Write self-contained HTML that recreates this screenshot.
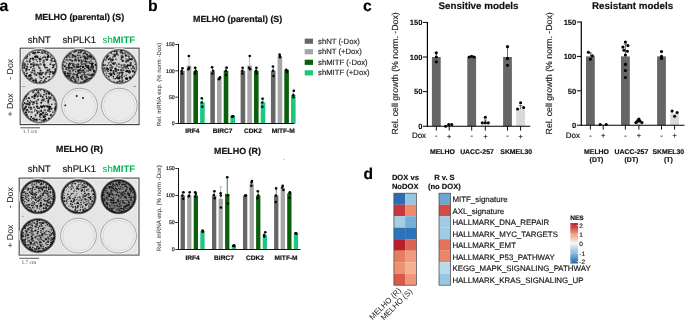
<!DOCTYPE html>
<html><head><meta charset="utf-8"><style>
html,body{margin:0;padding:0;background:#fff;}
svg{display:block;will-change:transform;}
text{font-family:"Liberation Sans", sans-serif;text-rendering:geometricPrecision;}
</style></head><body>
<svg width="685" height="320" viewBox="0 0 685 320" font-family='"Liberation Sans", sans-serif'>
<rect width="685" height="320" fill="#fff"/>
<text x="-0.40" y="10.70" font-size="15.8" font-weight="bold" text-anchor="start" fill="#000"  stroke="#000" stroke-width="0.18">a</text>
<text x="148.00" y="10.70" font-size="15.8" font-weight="bold" text-anchor="start" fill="#000"  stroke="#000" stroke-width="0.18">b</text>
<text x="363.10" y="10.80" font-size="15.8" font-weight="bold" text-anchor="start" fill="#000"  stroke="#000" stroke-width="0.18">c</text>
<text x="363.40" y="178.70" font-size="15.6" font-weight="bold" text-anchor="start" fill="#000"  stroke="#000" stroke-width="0.18">d</text>
<radialGradient id="edge"><stop offset="0.6" stop-color="#000" stop-opacity="0"/><stop offset="0.92" stop-color="#000" stop-opacity="0.18"/><stop offset="1" stop-color="#000" stop-opacity="0.45"/></radialGradient>
<text x="34.90" y="20.20" font-size="8.9" font-weight="bold" text-anchor="start" fill="#111"  stroke="#111" stroke-width="0.18">MELHO (parental) (S)</text>
<text x="27.80" y="43.00" font-size="9.6" font-weight="normal" text-anchor="start" fill="#1a1a1a"  stroke="#1a1a1a" stroke-width="0.18">shNT</text>
<text x="62.50" y="43.00" font-size="9.6" font-weight="normal" text-anchor="start" fill="#1a1a1a"  stroke="#1a1a1a" stroke-width="0.18">shPLK1</text>
<text x="102.6" y="43.0" font-size="9.6" fill="#00b050">sh<tspan font-weight="bold">MITF</tspan></text>
<rect x="20.2" y="48.2" width="118.8" height="76.39999999999999" fill="#e5e5e5" stroke="#3a3a3a" stroke-width="1.1"/>
<rect x="21.3" y="49.300000000000004" width="116.6" height="74.19999999999999" fill="none" stroke="#f3f3f3" stroke-width="0.9"/>
<g transform="translate(39.4 66.6) scale(1 0.9775) translate(-39.4 -66.6)">
<clipPath id="cp1"><circle cx="39.4" cy="66.6" r="16.900000000000002"/></clipPath>
<circle cx="39.4" cy="66.6" r="18.400000000000002" fill="none" stroke="#efefef" stroke-width="1.2"/>
<circle cx="39.4" cy="66.6" r="17.8" fill="#d6d6d6" stroke="#777" stroke-width="0.7"/>
<g clip-path="url(#cp1)"><circle cx="39.5" cy="49.6" r="1.2" fill="#666"/><circle cx="31.1" cy="51.2" r="0.9" fill="#181818"/><circle cx="35.6" cy="52.1" r="0.8" fill="#222"/><circle cx="38.0" cy="51.9" r="1.1" fill="#181818"/><circle cx="39.5" cy="52.1" r="0.7" fill="#2a2a2a"/><circle cx="42.2" cy="52.1" r="1.2" fill="#2a2a2a"/><circle cx="44.5" cy="49.9" r="0.9" fill="#111"/><circle cx="44.8" cy="51.3" r="1.2" fill="#222"/><circle cx="48.1" cy="51.9" r="0.8" fill="#111"/><circle cx="28.1" cy="53.2" r="1.1" fill="#444"/><circle cx="29.5" cy="54.2" r="0.8" fill="#666"/><circle cx="33.1" cy="52.6" r="1.3" fill="#444"/><circle cx="34.4" cy="52.8" r="1.3" fill="#222"/><circle cx="35.9" cy="53.5" r="0.7" fill="#666"/><circle cx="41.6" cy="52.7" r="1.1" fill="#666"/><circle cx="42.5" cy="52.9" r="0.9" fill="#444"/><circle cx="45.4" cy="52.9" r="0.9" fill="#444"/><circle cx="47.5" cy="53.8" r="1.2" fill="#444"/><circle cx="27.3" cy="55.9" r="1.0" fill="#222"/><circle cx="29.8" cy="54.6" r="0.8" fill="#444"/><circle cx="35.1" cy="56.1" r="0.7" fill="#222"/><circle cx="37.0" cy="56.2" r="1.1" fill="#222"/><circle cx="44.4" cy="56.5" r="1.3" fill="#666"/><circle cx="48.4" cy="55.4" r="0.9" fill="#181818"/><circle cx="51.6" cy="54.8" r="1.2" fill="#444"/><circle cx="26.4" cy="57.7" r="1.3" fill="#444"/><circle cx="30.5" cy="58.3" r="0.8" fill="#111"/><circle cx="32.7" cy="58.3" r="1.2" fill="#181818"/><circle cx="35.5" cy="56.5" r="1.3" fill="#111"/><circle cx="37.6" cy="57.0" r="1.0" fill="#111"/><circle cx="39.1" cy="58.2" r="0.7" fill="#181818"/><circle cx="40.4" cy="56.6" r="0.7" fill="#666"/><circle cx="42.7" cy="57.6" r="0.9" fill="#222"/><circle cx="45.5" cy="57.4" r="0.8" fill="#222"/><circle cx="47.8" cy="56.8" r="1.2" fill="#111"/><circle cx="50.3" cy="56.6" r="1.1" fill="#444"/><circle cx="52.1" cy="58.3" r="1.0" fill="#222"/><circle cx="54.9" cy="58.2" r="1.3" fill="#2a2a2a"/><circle cx="29.9" cy="59.7" r="1.2" fill="#666"/><circle cx="33.4" cy="59.9" r="0.7" fill="#222"/><circle cx="34.9" cy="58.9" r="0.7" fill="#181818"/><circle cx="36.4" cy="59.6" r="1.0" fill="#666"/><circle cx="40.0" cy="59.1" r="1.2" fill="#111"/><circle cx="40.4" cy="59.0" r="1.1" fill="#222"/><circle cx="43.8" cy="60.5" r="1.2" fill="#444"/><circle cx="45.9" cy="59.2" r="0.7" fill="#444"/><circle cx="47.0" cy="59.4" r="1.2" fill="#181818"/><circle cx="51.3" cy="60.1" r="1.1" fill="#2a2a2a"/><circle cx="54.7" cy="60.8" r="0.8" fill="#2a2a2a"/><circle cx="24.0" cy="62.9" r="0.8" fill="#2a2a2a"/><circle cx="26.9" cy="61.2" r="1.2" fill="#666"/><circle cx="29.7" cy="61.5" r="1.1" fill="#222"/><circle cx="33.6" cy="62.8" r="1.2" fill="#666"/><circle cx="37.2" cy="61.5" r="0.7" fill="#2a2a2a"/><circle cx="39.9" cy="61.3" r="0.8" fill="#2a2a2a"/><circle cx="43.6" cy="62.2" r="1.2" fill="#666"/><circle cx="51.2" cy="61.9" r="0.8" fill="#666"/><circle cx="53.0" cy="61.1" r="0.8" fill="#181818"/><circle cx="55.2" cy="61.2" r="1.1" fill="#111"/><circle cx="22.4" cy="63.8" r="1.2" fill="#111"/><circle cx="25.0" cy="64.1" r="0.9" fill="#111"/><circle cx="27.8" cy="64.1" r="0.8" fill="#444"/><circle cx="30.9" cy="64.2" r="0.9" fill="#222"/><circle cx="31.7" cy="64.1" r="1.0" fill="#222"/><circle cx="33.9" cy="65.2" r="1.2" fill="#2a2a2a"/><circle cx="36.6" cy="64.6" r="1.2" fill="#222"/><circle cx="38.3" cy="65.2" r="1.0" fill="#444"/><circle cx="40.5" cy="64.2" r="1.2" fill="#666"/><circle cx="44.1" cy="64.7" r="1.2" fill="#181818"/><circle cx="45.1" cy="65.1" r="0.7" fill="#444"/><circle cx="50.4" cy="64.3" r="1.0" fill="#222"/><circle cx="53.0" cy="64.7" r="0.8" fill="#444"/><circle cx="54.7" cy="64.7" r="0.8" fill="#2a2a2a"/><circle cx="55.8" cy="63.4" r="0.8" fill="#666"/><circle cx="22.2" cy="66.1" r="0.9" fill="#444"/><circle cx="24.5" cy="65.5" r="1.3" fill="#181818"/><circle cx="25.5" cy="65.5" r="1.2" fill="#666"/><circle cx="27.3" cy="66.8" r="1.1" fill="#2a2a2a"/><circle cx="31.1" cy="66.9" r="0.8" fill="#2a2a2a"/><circle cx="33.3" cy="66.5" r="0.8" fill="#222"/><circle cx="38.8" cy="67.3" r="1.0" fill="#444"/><circle cx="44.7" cy="67.0" r="1.0" fill="#444"/><circle cx="53.4" cy="65.5" r="1.1" fill="#181818"/><circle cx="53.8" cy="67.0" r="0.7" fill="#222"/><circle cx="57.1" cy="66.4" r="0.7" fill="#222"/><circle cx="24.2" cy="67.8" r="1.1" fill="#111"/><circle cx="26.5" cy="69.1" r="1.2" fill="#111"/><circle cx="30.4" cy="67.7" r="0.7" fill="#181818"/><circle cx="33.1" cy="68.4" r="0.7" fill="#2a2a2a"/><circle cx="34.2" cy="68.6" r="1.0" fill="#666"/><circle cx="39.7" cy="68.3" r="1.0" fill="#444"/><circle cx="45.9" cy="67.9" r="1.1" fill="#444"/><circle cx="47.3" cy="67.6" r="0.8" fill="#2a2a2a"/><circle cx="49.5" cy="69.4" r="0.9" fill="#111"/><circle cx="52.8" cy="67.6" r="0.9" fill="#111"/><circle cx="55.5" cy="69.4" r="0.9" fill="#181818"/><circle cx="56.1" cy="68.9" r="0.7" fill="#111"/><circle cx="26.0" cy="70.9" r="0.9" fill="#222"/><circle cx="27.8" cy="69.8" r="0.7" fill="#444"/><circle cx="29.3" cy="69.8" r="0.8" fill="#111"/><circle cx="32.6" cy="70.1" r="0.9" fill="#2a2a2a"/><circle cx="34.4" cy="70.8" r="1.1" fill="#2a2a2a"/><circle cx="40.6" cy="70.6" r="1.1" fill="#2a2a2a"/><circle cx="47.7" cy="70.6" r="1.2" fill="#2a2a2a"/><circle cx="49.9" cy="71.5" r="1.2" fill="#666"/><circle cx="52.8" cy="71.8" r="0.8" fill="#111"/><circle cx="55.3" cy="69.9" r="1.1" fill="#222"/><circle cx="56.2" cy="71.6" r="1.3" fill="#111"/><circle cx="24.3" cy="72.6" r="0.7" fill="#2a2a2a"/><circle cx="26.6" cy="73.9" r="0.9" fill="#2a2a2a"/><circle cx="27.3" cy="73.3" r="0.7" fill="#181818"/><circle cx="31.7" cy="72.5" r="1.2" fill="#444"/><circle cx="34.6" cy="73.6" r="1.2" fill="#444"/><circle cx="37.6" cy="72.9" r="0.7" fill="#111"/><circle cx="39.4" cy="73.8" r="1.3" fill="#222"/><circle cx="40.5" cy="72.9" r="1.2" fill="#444"/><circle cx="42.7" cy="73.0" r="1.1" fill="#2a2a2a"/><circle cx="46.0" cy="72.9" r="1.2" fill="#444"/><circle cx="47.9" cy="72.7" r="0.7" fill="#222"/><circle cx="50.7" cy="72.1" r="1.0" fill="#111"/><circle cx="53.3" cy="73.4" r="1.2" fill="#111"/><circle cx="54.8" cy="72.4" r="1.3" fill="#222"/><circle cx="24.3" cy="74.6" r="1.3" fill="#666"/><circle cx="26.2" cy="76.1" r="0.9" fill="#181818"/><circle cx="29.1" cy="76.2" r="1.2" fill="#2a2a2a"/><circle cx="30.3" cy="75.4" r="1.3" fill="#111"/><circle cx="34.3" cy="75.2" r="0.7" fill="#666"/><circle cx="36.4" cy="75.2" r="1.0" fill="#181818"/><circle cx="39.7" cy="74.7" r="0.9" fill="#2a2a2a"/><circle cx="41.3" cy="74.6" r="1.2" fill="#222"/><circle cx="45.5" cy="74.5" r="1.0" fill="#444"/><circle cx="49.7" cy="74.2" r="0.9" fill="#222"/><circle cx="52.9" cy="76.1" r="0.7" fill="#666"/><circle cx="54.7" cy="75.3" r="0.7" fill="#181818"/><circle cx="26.0" cy="76.8" r="1.3" fill="#111"/><circle cx="28.4" cy="78.1" r="0.8" fill="#666"/><circle cx="31.1" cy="77.2" r="0.7" fill="#2a2a2a"/><circle cx="31.6" cy="78.5" r="1.2" fill="#444"/><circle cx="39.3" cy="76.9" r="0.7" fill="#666"/><circle cx="40.4" cy="78.1" r="1.0" fill="#444"/><circle cx="43.6" cy="77.1" r="0.9" fill="#111"/><circle cx="46.2" cy="78.5" r="0.9" fill="#222"/><circle cx="47.9" cy="76.9" r="0.8" fill="#444"/><circle cx="49.4" cy="77.0" r="0.9" fill="#181818"/><circle cx="27.9" cy="79.6" r="1.3" fill="#666"/><circle cx="30.3" cy="79.2" r="1.1" fill="#2a2a2a"/><circle cx="35.8" cy="79.2" r="0.8" fill="#181818"/><circle cx="41.8" cy="78.8" r="0.7" fill="#111"/><circle cx="44.6" cy="80.6" r="1.0" fill="#2a2a2a"/><circle cx="45.7" cy="79.1" r="0.8" fill="#2a2a2a"/><circle cx="49.5" cy="80.7" r="1.1" fill="#181818"/><circle cx="52.2" cy="78.9" r="0.9" fill="#666"/><circle cx="33.5" cy="80.9" r="1.3" fill="#181818"/><circle cx="35.9" cy="81.2" r="1.3" fill="#2a2a2a"/><circle cx="36.1" cy="82.6" r="1.2" fill="#444"/><circle cx="39.7" cy="82.4" r="1.0" fill="#444"/><circle cx="41.0" cy="81.0" r="0.9" fill="#444"/><circle cx="43.2" cy="82.3" r="0.9" fill="#181818"/><circle cx="45.4" cy="82.5" r="1.1" fill="#111"/><circle cx="49.4" cy="80.7" r="1.2" fill="#444"/><circle cx="36.5" cy="83.2" r="1.2" fill="#222"/><circle cx="39.7" cy="83.4" r="0.8" fill="#181818"/><circle cx="41.4" cy="84.1" r="1.3" fill="#444"/></g>
<circle cx="39.4" cy="66.6" r="17.00" fill="none" stroke="#151515" stroke-opacity="0.85" stroke-width="0.8"/>
</g>
<g transform="translate(79.5 66.6) scale(1 0.9775) translate(-79.5 -66.6)">
<clipPath id="cp2"><circle cx="79.5" cy="66.6" r="16.900000000000002"/></clipPath>
<circle cx="79.5" cy="66.6" r="18.400000000000002" fill="none" stroke="#efefef" stroke-width="1.2"/>
<circle cx="79.5" cy="66.6" r="17.8" fill="#bcbcbc" stroke="#777" stroke-width="0.7"/>
<g clip-path="url(#cp2)"><circle cx="80.1" cy="49.7" r="0.8" fill="#111"/><circle cx="81.9" cy="49.0" r="0.7" fill="#111"/><circle cx="75.0" cy="50.9" r="1.0" fill="#666"/><circle cx="75.7" cy="50.4" r="1.3" fill="#222"/><circle cx="79.2" cy="49.9" r="0.9" fill="#444"/><circle cx="81.3" cy="50.8" r="1.1" fill="#181818"/><circle cx="81.9" cy="50.4" r="1.0" fill="#444"/><circle cx="84.5" cy="51.0" r="0.8" fill="#666"/><circle cx="70.1" cy="53.5" r="1.1" fill="#2a2a2a"/><circle cx="71.2" cy="53.5" r="0.9" fill="#666"/><circle cx="74.1" cy="52.1" r="0.7" fill="#2a2a2a"/><circle cx="78.6" cy="52.2" r="1.0" fill="#181818"/><circle cx="80.5" cy="52.3" r="0.9" fill="#2a2a2a"/><circle cx="83.6" cy="53.3" r="1.0" fill="#2a2a2a"/><circle cx="85.2" cy="52.6" r="1.0" fill="#181818"/><circle cx="86.1" cy="53.7" r="0.8" fill="#2a2a2a"/><circle cx="89.8" cy="52.3" r="1.0" fill="#444"/><circle cx="65.9" cy="55.7" r="0.9" fill="#222"/><circle cx="68.3" cy="55.3" r="1.1" fill="#222"/><circle cx="69.7" cy="54.6" r="1.0" fill="#666"/><circle cx="72.8" cy="54.8" r="1.2" fill="#2a2a2a"/><circle cx="74.0" cy="55.8" r="1.1" fill="#222"/><circle cx="77.4" cy="55.1" r="0.8" fill="#222"/><circle cx="79.4" cy="55.1" r="1.2" fill="#666"/><circle cx="82.7" cy="56.0" r="1.1" fill="#666"/><circle cx="84.3" cy="56.1" r="1.1" fill="#444"/><circle cx="87.2" cy="54.5" r="1.1" fill="#111"/><circle cx="90.0" cy="56.1" r="1.3" fill="#111"/><circle cx="90.7" cy="54.4" r="0.7" fill="#2a2a2a"/><circle cx="92.9" cy="55.4" r="0.8" fill="#666"/><circle cx="66.6" cy="56.9" r="1.1" fill="#111"/><circle cx="69.7" cy="56.9" r="1.0" fill="#444"/><circle cx="72.5" cy="56.9" r="1.1" fill="#444"/><circle cx="74.3" cy="56.6" r="0.8" fill="#666"/><circle cx="75.4" cy="56.4" r="1.1" fill="#181818"/><circle cx="78.1" cy="58.0" r="1.0" fill="#181818"/><circle cx="80.6" cy="57.2" r="0.9" fill="#181818"/><circle cx="84.8" cy="57.0" r="1.3" fill="#2a2a2a"/><circle cx="87.8" cy="56.5" r="1.1" fill="#2a2a2a"/><circle cx="88.5" cy="56.2" r="1.0" fill="#2a2a2a"/><circle cx="91.2" cy="56.7" r="1.2" fill="#181818"/><circle cx="93.2" cy="57.9" r="0.9" fill="#2a2a2a"/><circle cx="64.3" cy="58.5" r="0.9" fill="#444"/><circle cx="66.3" cy="59.5" r="0.7" fill="#222"/><circle cx="67.7" cy="59.8" r="0.7" fill="#222"/><circle cx="70.2" cy="59.7" r="1.1" fill="#181818"/><circle cx="71.2" cy="59.9" r="1.1" fill="#666"/><circle cx="75.3" cy="59.6" r="1.2" fill="#2a2a2a"/><circle cx="76.2" cy="60.0" r="0.9" fill="#111"/><circle cx="78.1" cy="58.3" r="1.1" fill="#666"/><circle cx="81.2" cy="60.2" r="1.0" fill="#444"/><circle cx="83.5" cy="60.3" r="1.0" fill="#444"/><circle cx="85.5" cy="58.4" r="1.2" fill="#111"/><circle cx="87.2" cy="58.3" r="1.3" fill="#2a2a2a"/><circle cx="89.4" cy="58.4" r="0.8" fill="#666"/><circle cx="91.8" cy="58.5" r="1.3" fill="#666"/><circle cx="94.1" cy="58.6" r="1.0" fill="#181818"/><circle cx="94.4" cy="58.7" r="1.1" fill="#666"/><circle cx="64.0" cy="61.9" r="0.8" fill="#2a2a2a"/><circle cx="65.0" cy="61.8" r="0.9" fill="#666"/><circle cx="67.7" cy="60.5" r="0.8" fill="#666"/><circle cx="72.3" cy="60.8" r="0.9" fill="#222"/><circle cx="74.3" cy="60.6" r="0.9" fill="#666"/><circle cx="76.2" cy="60.6" r="0.9" fill="#444"/><circle cx="78.9" cy="60.5" r="1.1" fill="#181818"/><circle cx="81.9" cy="61.5" r="1.0" fill="#181818"/><circle cx="85.7" cy="61.3" r="1.2" fill="#111"/><circle cx="87.9" cy="61.7" r="0.8" fill="#444"/><circle cx="88.7" cy="62.1" r="1.3" fill="#666"/><circle cx="90.8" cy="61.2" r="1.2" fill="#666"/><circle cx="62.9" cy="62.5" r="0.8" fill="#2a2a2a"/><circle cx="66.7" cy="63.5" r="0.7" fill="#2a2a2a"/><circle cx="69.7" cy="63.4" r="1.1" fill="#111"/><circle cx="71.9" cy="63.3" r="0.8" fill="#222"/><circle cx="73.5" cy="64.2" r="1.1" fill="#111"/><circle cx="78.2" cy="64.4" r="1.1" fill="#2a2a2a"/><circle cx="81.3" cy="62.8" r="0.9" fill="#2a2a2a"/><circle cx="83.1" cy="64.0" r="0.8" fill="#111"/><circle cx="85.0" cy="63.8" r="1.3" fill="#666"/><circle cx="86.6" cy="63.1" r="0.9" fill="#666"/><circle cx="90.0" cy="63.4" r="0.8" fill="#181818"/><circle cx="92.0" cy="63.8" r="1.3" fill="#111"/><circle cx="93.1" cy="63.4" r="0.8" fill="#111"/><circle cx="95.4" cy="64.5" r="0.9" fill="#111"/><circle cx="62.2" cy="65.0" r="0.8" fill="#2a2a2a"/><circle cx="62.9" cy="65.1" r="1.0" fill="#111"/><circle cx="65.0" cy="66.3" r="1.1" fill="#111"/><circle cx="68.9" cy="65.0" r="1.1" fill="#181818"/><circle cx="70.2" cy="64.7" r="0.8" fill="#444"/><circle cx="73.2" cy="64.9" r="1.2" fill="#444"/><circle cx="73.3" cy="65.7" r="1.1" fill="#2a2a2a"/><circle cx="76.4" cy="64.8" r="1.2" fill="#666"/><circle cx="78.4" cy="66.3" r="0.8" fill="#222"/><circle cx="80.6" cy="66.2" r="1.0" fill="#181818"/><circle cx="81.9" cy="64.7" r="0.8" fill="#2a2a2a"/><circle cx="85.8" cy="65.9" r="1.0" fill="#181818"/><circle cx="86.0" cy="65.0" r="0.9" fill="#111"/><circle cx="88.1" cy="66.2" r="1.2" fill="#111"/><circle cx="91.9" cy="65.9" r="1.1" fill="#2a2a2a"/><circle cx="92.5" cy="66.0" r="0.7" fill="#111"/><circle cx="95.7" cy="65.1" r="0.9" fill="#181818"/><circle cx="63.0" cy="67.7" r="0.7" fill="#444"/><circle cx="66.5" cy="67.8" r="0.7" fill="#181818"/><circle cx="68.7" cy="67.6" r="1.3" fill="#111"/><circle cx="69.5" cy="67.6" r="0.9" fill="#111"/><circle cx="71.5" cy="68.0" r="1.3" fill="#222"/><circle cx="74.4" cy="67.0" r="1.0" fill="#2a2a2a"/><circle cx="77.0" cy="66.9" r="1.3" fill="#2a2a2a"/><circle cx="78.7" cy="67.0" r="1.1" fill="#181818"/><circle cx="80.7" cy="68.7" r="0.8" fill="#2a2a2a"/><circle cx="83.1" cy="67.1" r="1.3" fill="#181818"/><circle cx="84.8" cy="68.5" r="0.8" fill="#222"/><circle cx="87.6" cy="67.3" r="1.2" fill="#181818"/><circle cx="88.7" cy="68.3" r="1.1" fill="#111"/><circle cx="91.3" cy="67.5" r="1.2" fill="#2a2a2a"/><circle cx="93.0" cy="66.8" r="1.2" fill="#222"/><circle cx="96.1" cy="67.1" r="0.9" fill="#666"/><circle cx="62.9" cy="69.2" r="0.8" fill="#444"/><circle cx="66.1" cy="69.1" r="0.9" fill="#111"/><circle cx="68.2" cy="69.8" r="1.1" fill="#666"/><circle cx="69.9" cy="70.8" r="1.3" fill="#666"/><circle cx="72.3" cy="68.9" r="1.0" fill="#444"/><circle cx="73.3" cy="70.4" r="0.9" fill="#111"/><circle cx="75.5" cy="69.5" r="1.2" fill="#666"/><circle cx="78.3" cy="70.8" r="1.3" fill="#181818"/><circle cx="79.7" cy="70.3" r="1.3" fill="#222"/><circle cx="83.1" cy="70.5" r="1.1" fill="#181818"/><circle cx="84.8" cy="68.9" r="0.9" fill="#444"/><circle cx="86.7" cy="70.8" r="0.9" fill="#666"/><circle cx="89.1" cy="69.2" r="0.9" fill="#222"/><circle cx="90.3" cy="70.2" r="1.2" fill="#222"/><circle cx="92.7" cy="69.0" r="1.2" fill="#444"/><circle cx="94.4" cy="70.7" r="1.0" fill="#181818"/><circle cx="63.9" cy="72.6" r="1.2" fill="#2a2a2a"/><circle cx="65.3" cy="71.9" r="0.9" fill="#2a2a2a"/><circle cx="69.4" cy="70.9" r="1.1" fill="#444"/><circle cx="72.3" cy="71.8" r="0.8" fill="#666"/><circle cx="75.6" cy="71.9" r="0.8" fill="#2a2a2a"/><circle cx="78.8" cy="72.8" r="1.2" fill="#2a2a2a"/><circle cx="81.3" cy="70.9" r="0.8" fill="#222"/><circle cx="82.0" cy="72.1" r="1.2" fill="#666"/><circle cx="84.4" cy="72.5" r="1.3" fill="#444"/><circle cx="88.2" cy="71.1" r="0.8" fill="#222"/><circle cx="93.8" cy="71.4" r="1.0" fill="#111"/><circle cx="94.5" cy="72.1" r="1.1" fill="#2a2a2a"/><circle cx="64.3" cy="74.0" r="1.2" fill="#111"/><circle cx="65.1" cy="74.0" r="1.2" fill="#222"/><circle cx="67.8" cy="73.6" r="1.2" fill="#111"/><circle cx="70.3" cy="73.6" r="1.3" fill="#444"/><circle cx="73.8" cy="74.5" r="1.3" fill="#444"/><circle cx="76.4" cy="75.0" r="1.0" fill="#181818"/><circle cx="77.6" cy="73.7" r="0.7" fill="#181818"/><circle cx="80.3" cy="73.0" r="1.0" fill="#2a2a2a"/><circle cx="84.2" cy="74.6" r="1.0" fill="#222"/><circle cx="87.1" cy="74.7" r="0.7" fill="#181818"/><circle cx="88.8" cy="74.6" r="1.1" fill="#666"/><circle cx="91.4" cy="74.3" r="0.7" fill="#666"/><circle cx="93.0" cy="74.8" r="1.3" fill="#2a2a2a"/><circle cx="94.3" cy="74.7" r="0.9" fill="#222"/><circle cx="65.3" cy="75.9" r="1.0" fill="#222"/><circle cx="67.0" cy="76.4" r="1.2" fill="#111"/><circle cx="69.2" cy="75.9" r="1.3" fill="#181818"/><circle cx="72.5" cy="76.6" r="0.9" fill="#2a2a2a"/><circle cx="77.3" cy="75.1" r="1.0" fill="#222"/><circle cx="77.7" cy="76.4" r="0.8" fill="#222"/><circle cx="80.6" cy="77.1" r="0.8" fill="#111"/><circle cx="81.9" cy="75.9" r="1.3" fill="#444"/><circle cx="85.0" cy="77.1" r="1.1" fill="#222"/><circle cx="85.9" cy="75.1" r="0.9" fill="#666"/><circle cx="89.4" cy="75.1" r="1.0" fill="#444"/><circle cx="91.6" cy="75.5" r="1.2" fill="#181818"/><circle cx="92.2" cy="75.9" r="0.7" fill="#222"/><circle cx="67.8" cy="77.9" r="1.1" fill="#666"/><circle cx="69.2" cy="78.1" r="1.0" fill="#2a2a2a"/><circle cx="71.4" cy="78.2" r="0.9" fill="#2a2a2a"/><circle cx="73.5" cy="77.9" r="1.1" fill="#181818"/><circle cx="76.5" cy="77.2" r="0.8" fill="#181818"/><circle cx="78.2" cy="77.9" r="1.0" fill="#181818"/><circle cx="81.1" cy="77.7" r="1.1" fill="#2a2a2a"/><circle cx="82.0" cy="78.8" r="1.1" fill="#2a2a2a"/><circle cx="85.7" cy="78.9" r="1.1" fill="#666"/><circle cx="86.6" cy="77.4" r="1.2" fill="#444"/><circle cx="89.0" cy="79.0" r="1.1" fill="#111"/><circle cx="90.9" cy="78.3" r="1.1" fill="#444"/><circle cx="70.8" cy="79.5" r="0.9" fill="#222"/><circle cx="71.8" cy="81.1" r="1.1" fill="#2a2a2a"/><circle cx="74.2" cy="79.6" r="0.9" fill="#444"/><circle cx="75.8" cy="79.4" r="0.8" fill="#2a2a2a"/><circle cx="78.4" cy="80.3" r="0.8" fill="#2a2a2a"/><circle cx="82.4" cy="79.3" r="1.1" fill="#444"/><circle cx="84.9" cy="81.1" r="1.1" fill="#2a2a2a"/><circle cx="87.0" cy="79.8" r="1.1" fill="#181818"/><circle cx="88.5" cy="80.0" r="0.9" fill="#666"/><circle cx="91.5" cy="79.4" r="1.1" fill="#111"/><circle cx="74.1" cy="83.2" r="0.9" fill="#181818"/><circle cx="75.4" cy="81.5" r="1.3" fill="#2a2a2a"/><circle cx="77.7" cy="82.2" r="0.7" fill="#444"/><circle cx="80.7" cy="82.7" r="0.9" fill="#222"/><circle cx="83.6" cy="82.3" r="1.2" fill="#111"/><circle cx="85.0" cy="81.5" r="1.1" fill="#2a2a2a"/><circle cx="86.8" cy="81.9" r="1.3" fill="#2a2a2a"/></g>
<circle cx="79.5" cy="66.6" r="17.00" fill="none" stroke="#151515" stroke-opacity="0.85" stroke-width="0.8"/>
</g>
<g transform="translate(119.3 66.6) scale(1 0.9775) translate(-119.3 -66.6)">
<clipPath id="cp3"><circle cx="119.3" cy="66.6" r="16.900000000000002"/></clipPath>
<circle cx="119.3" cy="66.6" r="18.400000000000002" fill="none" stroke="#efefef" stroke-width="1.2"/>
<circle cx="119.3" cy="66.6" r="17.8" fill="#cdcdcd" stroke="#777" stroke-width="0.7"/>
<g clip-path="url(#cp3)"><circle cx="121.3" cy="49.7" r="1.2" fill="#2a2a2a"/><circle cx="113.3" cy="50.6" r="0.8" fill="#111"/><circle cx="114.7" cy="51.2" r="0.8" fill="#111"/><circle cx="116.7" cy="51.3" r="1.1" fill="#181818"/><circle cx="120.1" cy="51.5" r="0.9" fill="#666"/><circle cx="121.5" cy="50.2" r="1.3" fill="#111"/><circle cx="125.1" cy="51.2" r="0.9" fill="#666"/><circle cx="127.9" cy="51.1" r="1.3" fill="#111"/><circle cx="110.9" cy="52.2" r="1.2" fill="#2a2a2a"/><circle cx="112.2" cy="53.8" r="0.7" fill="#666"/><circle cx="114.1" cy="54.2" r="0.9" fill="#444"/><circle cx="116.6" cy="53.6" r="1.2" fill="#222"/><circle cx="120.8" cy="52.5" r="0.8" fill="#111"/><circle cx="122.5" cy="52.6" r="1.1" fill="#222"/><circle cx="125.2" cy="53.2" r="1.3" fill="#666"/><circle cx="128.0" cy="53.6" r="1.0" fill="#666"/><circle cx="130.2" cy="53.8" r="1.2" fill="#666"/><circle cx="106.5" cy="54.8" r="0.8" fill="#2a2a2a"/><circle cx="108.3" cy="55.5" r="1.1" fill="#444"/><circle cx="114.8" cy="55.5" r="1.3" fill="#111"/><circle cx="118.1" cy="54.8" r="0.8" fill="#2a2a2a"/><circle cx="121.2" cy="55.4" r="0.7" fill="#444"/><circle cx="122.5" cy="54.8" r="0.9" fill="#666"/><circle cx="125.9" cy="55.4" r="1.1" fill="#111"/><circle cx="128.1" cy="55.8" r="0.7" fill="#181818"/><circle cx="129.1" cy="56.0" r="0.7" fill="#444"/><circle cx="132.2" cy="55.5" r="1.2" fill="#222"/><circle cx="106.8" cy="58.0" r="0.8" fill="#181818"/><circle cx="107.2" cy="56.6" r="1.1" fill="#111"/><circle cx="110.0" cy="58.1" r="1.0" fill="#222"/><circle cx="113.3" cy="56.7" r="1.2" fill="#666"/><circle cx="121.5" cy="57.0" r="0.9" fill="#222"/><circle cx="122.5" cy="56.9" r="1.3" fill="#2a2a2a"/><circle cx="128.9" cy="56.7" r="0.9" fill="#444"/><circle cx="133.2" cy="57.4" r="0.9" fill="#2a2a2a"/><circle cx="134.7" cy="57.8" r="0.8" fill="#2a2a2a"/><circle cx="103.1" cy="59.5" r="1.3" fill="#111"/><circle cx="105.5" cy="59.7" r="1.2" fill="#666"/><circle cx="108.6" cy="59.2" r="0.9" fill="#111"/><circle cx="110.7" cy="59.6" r="1.2" fill="#444"/><circle cx="112.5" cy="59.7" r="1.3" fill="#181818"/><circle cx="115.9" cy="59.0" r="0.8" fill="#2a2a2a"/><circle cx="121.3" cy="59.0" r="0.9" fill="#222"/><circle cx="122.8" cy="60.7" r="1.2" fill="#181818"/><circle cx="125.9" cy="58.7" r="0.7" fill="#2a2a2a"/><circle cx="127.9" cy="60.4" r="1.3" fill="#111"/><circle cx="129.6" cy="59.0" r="1.1" fill="#181818"/><circle cx="131.6" cy="59.0" r="1.2" fill="#111"/><circle cx="134.6" cy="60.7" r="0.8" fill="#666"/><circle cx="102.9" cy="61.8" r="1.2" fill="#444"/><circle cx="109.1" cy="62.5" r="0.7" fill="#2a2a2a"/><circle cx="111.2" cy="61.9" r="0.8" fill="#111"/><circle cx="113.4" cy="63.0" r="0.9" fill="#181818"/><circle cx="115.3" cy="63.0" r="1.0" fill="#666"/><circle cx="123.0" cy="61.2" r="0.7" fill="#2a2a2a"/><circle cx="126.4" cy="61.4" r="1.2" fill="#222"/><circle cx="127.2" cy="61.2" r="0.8" fill="#666"/><circle cx="130.7" cy="62.9" r="1.2" fill="#444"/><circle cx="134.3" cy="61.5" r="0.8" fill="#666"/><circle cx="102.5" cy="64.2" r="1.1" fill="#222"/><circle cx="103.8" cy="65.3" r="1.1" fill="#2a2a2a"/><circle cx="105.5" cy="65.0" r="0.7" fill="#2a2a2a"/><circle cx="108.6" cy="63.7" r="0.7" fill="#666"/><circle cx="110.6" cy="65.2" r="1.1" fill="#222"/><circle cx="112.6" cy="63.5" r="0.8" fill="#181818"/><circle cx="113.8" cy="63.6" r="1.3" fill="#2a2a2a"/><circle cx="116.6" cy="64.3" r="0.7" fill="#666"/><circle cx="118.9" cy="64.0" r="0.9" fill="#181818"/><circle cx="121.3" cy="65.0" r="1.1" fill="#666"/><circle cx="124.7" cy="65.2" r="1.0" fill="#222"/><circle cx="127.8" cy="65.3" r="1.2" fill="#111"/><circle cx="130.9" cy="64.9" r="0.8" fill="#222"/><circle cx="135.2" cy="64.2" r="0.7" fill="#111"/><circle cx="107.4" cy="65.4" r="0.7" fill="#111"/><circle cx="110.5" cy="65.3" r="0.8" fill="#444"/><circle cx="112.0" cy="67.4" r="1.3" fill="#444"/><circle cx="116.7" cy="65.7" r="0.9" fill="#666"/><circle cx="119.0" cy="67.0" r="0.9" fill="#666"/><circle cx="121.3" cy="67.2" r="1.0" fill="#666"/><circle cx="123.4" cy="65.5" r="1.2" fill="#666"/><circle cx="125.3" cy="67.1" r="1.3" fill="#444"/><circle cx="127.1" cy="66.7" r="1.0" fill="#111"/><circle cx="130.3" cy="65.3" r="1.2" fill="#111"/><circle cx="133.1" cy="66.6" r="1.1" fill="#222"/><circle cx="133.4" cy="67.2" r="1.0" fill="#444"/><circle cx="104.1" cy="68.2" r="0.9" fill="#111"/><circle cx="106.7" cy="68.2" r="1.3" fill="#444"/><circle cx="107.6" cy="69.2" r="1.2" fill="#111"/><circle cx="109.9" cy="68.0" r="0.9" fill="#444"/><circle cx="115.5" cy="68.8" r="1.2" fill="#222"/><circle cx="115.8" cy="69.5" r="1.0" fill="#181818"/><circle cx="123.0" cy="68.3" r="1.2" fill="#666"/><circle cx="126.2" cy="68.6" r="1.0" fill="#666"/><circle cx="128.3" cy="68.5" r="0.8" fill="#222"/><circle cx="131.2" cy="69.1" r="0.7" fill="#444"/><circle cx="132.0" cy="68.5" r="0.8" fill="#444"/><circle cx="134.3" cy="68.7" r="0.8" fill="#222"/><circle cx="102.8" cy="69.7" r="1.3" fill="#666"/><circle cx="105.3" cy="70.7" r="1.3" fill="#666"/><circle cx="108.0" cy="71.2" r="0.9" fill="#222"/><circle cx="110.9" cy="70.3" r="1.2" fill="#111"/><circle cx="113.6" cy="71.2" r="1.1" fill="#2a2a2a"/><circle cx="116.1" cy="71.3" r="1.1" fill="#2a2a2a"/><circle cx="118.2" cy="70.0" r="1.0" fill="#181818"/><circle cx="121.2" cy="70.3" r="1.3" fill="#444"/><circle cx="123.7" cy="70.3" r="0.8" fill="#2a2a2a"/><circle cx="126.5" cy="71.3" r="1.2" fill="#222"/><circle cx="127.2" cy="71.2" r="1.2" fill="#111"/><circle cx="129.4" cy="71.4" r="1.2" fill="#111"/><circle cx="133.1" cy="71.3" r="1.2" fill="#181818"/><circle cx="134.1" cy="71.6" r="0.7" fill="#444"/><circle cx="102.8" cy="72.4" r="1.2" fill="#181818"/><circle cx="106.4" cy="73.4" r="0.8" fill="#444"/><circle cx="109.0" cy="73.6" r="0.7" fill="#222"/><circle cx="110.7" cy="73.8" r="1.2" fill="#222"/><circle cx="113.4" cy="73.1" r="1.1" fill="#2a2a2a"/><circle cx="113.6" cy="73.3" r="0.8" fill="#181818"/><circle cx="117.2" cy="73.1" r="1.0" fill="#666"/><circle cx="119.3" cy="73.2" r="1.0" fill="#222"/><circle cx="121.2" cy="72.9" r="1.0" fill="#2a2a2a"/><circle cx="122.6" cy="72.7" r="1.0" fill="#111"/><circle cx="129.3" cy="72.5" r="1.3" fill="#2a2a2a"/><circle cx="134.5" cy="72.6" r="0.7" fill="#111"/><circle cx="104.3" cy="75.1" r="1.1" fill="#666"/><circle cx="106.7" cy="75.6" r="0.8" fill="#666"/><circle cx="110.9" cy="75.1" r="1.3" fill="#2a2a2a"/><circle cx="111.5" cy="75.0" r="1.1" fill="#111"/><circle cx="114.5" cy="74.3" r="0.9" fill="#111"/><circle cx="117.4" cy="76.0" r="0.7" fill="#222"/><circle cx="118.9" cy="74.9" r="1.2" fill="#666"/><circle cx="121.8" cy="76.2" r="1.1" fill="#2a2a2a"/><circle cx="122.4" cy="74.5" r="0.9" fill="#222"/><circle cx="126.2" cy="75.4" r="1.0" fill="#666"/><circle cx="133.0" cy="76.0" r="0.9" fill="#2a2a2a"/><circle cx="134.7" cy="74.8" r="0.8" fill="#181818"/><circle cx="106.5" cy="78.1" r="0.8" fill="#111"/><circle cx="108.7" cy="76.8" r="0.9" fill="#181818"/><circle cx="113.4" cy="76.7" r="0.8" fill="#111"/><circle cx="113.6" cy="78.4" r="0.9" fill="#666"/><circle cx="117.3" cy="77.7" r="1.3" fill="#222"/><circle cx="119.9" cy="77.1" r="0.9" fill="#181818"/><circle cx="122.1" cy="78.1" r="0.9" fill="#222"/><circle cx="124.1" cy="76.4" r="0.8" fill="#666"/><circle cx="125.9" cy="78.4" r="0.9" fill="#666"/><circle cx="130.0" cy="77.7" r="1.3" fill="#111"/><circle cx="133.1" cy="77.1" r="1.2" fill="#222"/><circle cx="106.4" cy="78.7" r="0.7" fill="#666"/><circle cx="109.3" cy="79.8" r="1.1" fill="#666"/><circle cx="115.2" cy="79.0" r="0.8" fill="#111"/><circle cx="117.5" cy="78.6" r="1.0" fill="#222"/><circle cx="119.0" cy="78.6" r="1.3" fill="#111"/><circle cx="122.0" cy="79.2" r="0.9" fill="#666"/><circle cx="122.6" cy="80.7" r="0.8" fill="#2a2a2a"/><circle cx="126.3" cy="78.8" r="1.2" fill="#181818"/><circle cx="126.9" cy="79.0" r="1.3" fill="#111"/><circle cx="130.9" cy="78.7" r="1.1" fill="#111"/><circle cx="131.7" cy="79.3" r="1.2" fill="#2a2a2a"/><circle cx="111.7" cy="82.3" r="0.7" fill="#444"/><circle cx="113.8" cy="82.5" r="1.0" fill="#444"/><circle cx="117.5" cy="82.5" r="0.8" fill="#111"/><circle cx="119.7" cy="81.7" r="1.2" fill="#222"/><circle cx="120.9" cy="82.1" r="1.3" fill="#666"/><circle cx="122.5" cy="81.8" r="1.0" fill="#444"/><circle cx="125.9" cy="82.7" r="1.0" fill="#222"/><circle cx="116.2" cy="83.2" r="0.9" fill="#444"/><circle cx="119.8" cy="84.2" r="0.7" fill="#444"/><circle cx="122.6" cy="83.6" r="0.7" fill="#666"/></g>
<circle cx="119.3" cy="66.6" r="17.00" fill="none" stroke="#151515" stroke-opacity="0.85" stroke-width="0.8"/>
</g>
<g transform="translate(39.4 105.7) scale(1 0.9775) translate(-39.4 -105.7)">
<clipPath id="cp4"><circle cx="39.4" cy="105.7" r="16.900000000000002"/></clipPath>
<circle cx="39.4" cy="105.7" r="18.400000000000002" fill="none" stroke="#efefef" stroke-width="1.2"/>
<circle cx="39.4" cy="105.7" r="17.8" fill="#d6d6d6" stroke="#777" stroke-width="0.7"/>
<g clip-path="url(#cp4)"><circle cx="40.3" cy="88.9" r="1.1" fill="#181818"/><circle cx="41.7" cy="88.6" r="0.7" fill="#181818"/><circle cx="43.8" cy="88.5" r="1.1" fill="#181818"/><circle cx="34.6" cy="89.2" r="1.2" fill="#222"/><circle cx="36.6" cy="89.7" r="0.9" fill="#111"/><circle cx="38.4" cy="90.6" r="1.0" fill="#2a2a2a"/><circle cx="40.7" cy="90.2" r="0.8" fill="#666"/><circle cx="44.2" cy="89.9" r="0.9" fill="#181818"/><circle cx="48.2" cy="91.2" r="0.8" fill="#444"/><circle cx="28.1" cy="93.3" r="1.1" fill="#2a2a2a"/><circle cx="33.3" cy="91.7" r="1.2" fill="#444"/><circle cx="37.2" cy="92.1" r="0.7" fill="#222"/><circle cx="38.6" cy="92.8" r="1.2" fill="#444"/><circle cx="44.6" cy="91.5" r="1.1" fill="#444"/><circle cx="47.3" cy="91.2" r="1.0" fill="#111"/><circle cx="49.2" cy="91.8" r="1.3" fill="#111"/><circle cx="26.4" cy="95.5" r="1.1" fill="#2a2a2a"/><circle cx="27.2" cy="94.1" r="0.7" fill="#2a2a2a"/><circle cx="35.7" cy="94.2" r="1.3" fill="#2a2a2a"/><circle cx="38.0" cy="93.5" r="0.7" fill="#666"/><circle cx="38.9" cy="94.7" r="0.7" fill="#666"/><circle cx="40.6" cy="94.0" r="0.9" fill="#666"/><circle cx="44.0" cy="94.4" r="1.0" fill="#444"/><circle cx="46.4" cy="93.5" r="1.0" fill="#181818"/><circle cx="49.0" cy="93.6" r="1.1" fill="#2a2a2a"/><circle cx="49.7" cy="93.4" r="1.1" fill="#181818"/><circle cx="52.4" cy="95.1" r="1.3" fill="#2a2a2a"/><circle cx="24.7" cy="97.5" r="1.1" fill="#222"/><circle cx="25.4" cy="95.9" r="1.3" fill="#111"/><circle cx="28.7" cy="97.7" r="0.8" fill="#2a2a2a"/><circle cx="32.3" cy="96.7" r="1.2" fill="#444"/><circle cx="34.7" cy="95.8" r="1.3" fill="#111"/><circle cx="37.4" cy="96.2" r="1.1" fill="#444"/><circle cx="38.1" cy="95.9" r="0.7" fill="#222"/><circle cx="40.8" cy="95.9" r="1.1" fill="#2a2a2a"/><circle cx="42.7" cy="96.8" r="0.9" fill="#111"/><circle cx="46.2" cy="96.0" r="0.8" fill="#111"/><circle cx="48.6" cy="96.8" r="0.8" fill="#222"/><circle cx="50.3" cy="97.7" r="1.3" fill="#181818"/><circle cx="53.7" cy="97.7" r="0.7" fill="#2a2a2a"/><circle cx="24.1" cy="98.9" r="0.9" fill="#222"/><circle cx="26.3" cy="98.3" r="1.2" fill="#666"/><circle cx="29.1" cy="98.1" r="0.9" fill="#111"/><circle cx="34.5" cy="98.0" r="1.0" fill="#222"/><circle cx="38.2" cy="99.6" r="0.9" fill="#181818"/><circle cx="43.6" cy="99.3" r="1.3" fill="#444"/><circle cx="46.8" cy="98.0" r="1.0" fill="#222"/><circle cx="48.7" cy="99.0" r="1.0" fill="#444"/><circle cx="53.2" cy="99.1" r="0.7" fill="#444"/><circle cx="54.7" cy="99.1" r="1.0" fill="#444"/><circle cx="55.7" cy="98.6" r="0.7" fill="#2a2a2a"/><circle cx="23.0" cy="100.2" r="1.3" fill="#2a2a2a"/><circle cx="27.7" cy="101.0" r="1.0" fill="#2a2a2a"/><circle cx="30.5" cy="100.2" r="0.7" fill="#222"/><circle cx="31.8" cy="101.7" r="0.8" fill="#181818"/><circle cx="36.4" cy="101.1" r="1.1" fill="#444"/><circle cx="42.2" cy="100.1" r="1.2" fill="#444"/><circle cx="42.9" cy="100.4" r="1.1" fill="#444"/><circle cx="45.2" cy="101.2" r="0.7" fill="#666"/><circle cx="48.3" cy="100.8" r="1.1" fill="#181818"/><circle cx="54.1" cy="100.2" r="0.9" fill="#666"/><circle cx="56.0" cy="100.9" r="0.7" fill="#181818"/><circle cx="24.5" cy="103.0" r="1.1" fill="#222"/><circle cx="26.0" cy="103.7" r="0.7" fill="#111"/><circle cx="27.2" cy="103.9" r="1.3" fill="#2a2a2a"/><circle cx="29.6" cy="102.6" r="1.2" fill="#222"/><circle cx="33.5" cy="102.4" r="1.3" fill="#2a2a2a"/><circle cx="33.9" cy="102.4" r="0.9" fill="#222"/><circle cx="36.8" cy="103.5" r="1.1" fill="#181818"/><circle cx="41.2" cy="102.6" r="1.0" fill="#111"/><circle cx="48.2" cy="102.6" r="0.9" fill="#222"/><circle cx="51.7" cy="104.3" r="0.9" fill="#444"/><circle cx="55.0" cy="103.9" r="0.9" fill="#666"/><circle cx="56.1" cy="104.0" r="0.7" fill="#222"/><circle cx="22.7" cy="106.4" r="0.8" fill="#666"/><circle cx="23.4" cy="104.9" r="0.8" fill="#111"/><circle cx="25.8" cy="106.6" r="1.1" fill="#2a2a2a"/><circle cx="29.3" cy="104.5" r="1.2" fill="#222"/><circle cx="32.9" cy="104.4" r="0.8" fill="#222"/><circle cx="37.1" cy="106.6" r="1.2" fill="#111"/><circle cx="41.2" cy="106.5" r="1.3" fill="#2a2a2a"/><circle cx="43.7" cy="105.7" r="1.0" fill="#222"/><circle cx="45.9" cy="105.7" r="0.9" fill="#666"/><circle cx="47.5" cy="106.4" r="1.2" fill="#111"/><circle cx="49.1" cy="104.9" r="0.8" fill="#666"/><circle cx="55.9" cy="106.4" r="1.0" fill="#181818"/><circle cx="24.5" cy="108.6" r="1.3" fill="#181818"/><circle cx="26.2" cy="106.9" r="1.0" fill="#181818"/><circle cx="29.0" cy="107.4" r="0.9" fill="#181818"/><circle cx="30.8" cy="107.6" r="1.1" fill="#2a2a2a"/><circle cx="34.0" cy="107.2" r="1.0" fill="#444"/><circle cx="37.9" cy="108.3" r="0.9" fill="#222"/><circle cx="39.4" cy="108.2" r="0.8" fill="#222"/><circle cx="42.0" cy="107.0" r="1.3" fill="#181818"/><circle cx="44.4" cy="106.7" r="0.8" fill="#2a2a2a"/><circle cx="44.8" cy="106.7" r="0.8" fill="#111"/><circle cx="48.9" cy="107.0" r="1.3" fill="#2a2a2a"/><circle cx="50.2" cy="107.1" r="1.2" fill="#111"/><circle cx="55.3" cy="108.3" r="1.2" fill="#2a2a2a"/><circle cx="23.4" cy="110.0" r="1.3" fill="#2a2a2a"/><circle cx="26.3" cy="110.1" r="0.9" fill="#444"/><circle cx="27.3" cy="110.0" r="1.1" fill="#222"/><circle cx="31.1" cy="108.8" r="1.3" fill="#444"/><circle cx="35.2" cy="109.4" r="0.9" fill="#666"/><circle cx="36.6" cy="110.8" r="1.0" fill="#444"/><circle cx="41.3" cy="110.6" r="0.9" fill="#2a2a2a"/><circle cx="44.6" cy="110.4" r="0.7" fill="#222"/><circle cx="44.8" cy="110.3" r="1.2" fill="#666"/><circle cx="48.1" cy="110.6" r="1.2" fill="#444"/><circle cx="49.5" cy="109.0" r="1.2" fill="#111"/><circle cx="51.8" cy="108.9" r="0.9" fill="#111"/><circle cx="54.9" cy="110.6" r="1.0" fill="#444"/><circle cx="55.9" cy="109.0" r="1.3" fill="#111"/><circle cx="25.8" cy="112.6" r="1.3" fill="#222"/><circle cx="28.8" cy="111.9" r="1.3" fill="#666"/><circle cx="31.7" cy="112.4" r="1.2" fill="#666"/><circle cx="34.5" cy="111.0" r="0.7" fill="#2a2a2a"/><circle cx="38.0" cy="112.4" r="1.1" fill="#111"/><circle cx="39.0" cy="111.9" r="1.2" fill="#666"/><circle cx="41.1" cy="111.4" r="0.9" fill="#222"/><circle cx="43.1" cy="112.9" r="1.2" fill="#222"/><circle cx="46.1" cy="112.7" r="0.7" fill="#2a2a2a"/><circle cx="49.8" cy="111.4" r="1.1" fill="#444"/><circle cx="52.9" cy="112.3" r="0.8" fill="#222"/><circle cx="26.4" cy="114.9" r="1.3" fill="#2a2a2a"/><circle cx="27.2" cy="115.3" r="0.9" fill="#444"/><circle cx="35.6" cy="115.2" r="0.8" fill="#2a2a2a"/><circle cx="37.2" cy="113.5" r="0.9" fill="#222"/><circle cx="40.1" cy="115.0" r="1.2" fill="#444"/><circle cx="40.9" cy="114.4" r="1.2" fill="#111"/><circle cx="42.9" cy="115.2" r="0.7" fill="#222"/><circle cx="45.3" cy="114.8" r="1.0" fill="#2a2a2a"/><circle cx="47.1" cy="114.8" r="1.0" fill="#111"/><circle cx="51.5" cy="115.0" r="1.0" fill="#444"/><circle cx="25.0" cy="115.6" r="1.1" fill="#666"/><circle cx="28.1" cy="117.5" r="1.1" fill="#111"/><circle cx="31.2" cy="117.0" r="0.9" fill="#111"/><circle cx="35.5" cy="115.9" r="0.9" fill="#2a2a2a"/><circle cx="39.8" cy="116.6" r="0.8" fill="#2a2a2a"/><circle cx="43.7" cy="117.0" r="1.2" fill="#111"/><circle cx="44.9" cy="116.8" r="1.1" fill="#181818"/><circle cx="50.4" cy="115.6" r="0.8" fill="#111"/><circle cx="52.3" cy="117.1" r="1.2" fill="#444"/><circle cx="53.8" cy="115.9" r="1.1" fill="#2a2a2a"/><circle cx="28.4" cy="117.6" r="0.9" fill="#666"/><circle cx="30.3" cy="118.8" r="0.9" fill="#222"/><circle cx="33.3" cy="118.9" r="1.2" fill="#222"/><circle cx="34.9" cy="118.4" r="0.7" fill="#666"/><circle cx="39.7" cy="119.7" r="0.7" fill="#666"/><circle cx="40.7" cy="117.8" r="1.1" fill="#666"/><circle cx="45.3" cy="119.5" r="1.2" fill="#181818"/><circle cx="48.9" cy="118.8" r="1.0" fill="#222"/><circle cx="49.5" cy="119.2" r="0.9" fill="#181818"/><circle cx="30.7" cy="120.5" r="1.2" fill="#2a2a2a"/><circle cx="32.9" cy="121.2" r="0.8" fill="#2a2a2a"/><circle cx="34.7" cy="120.1" r="1.0" fill="#181818"/><circle cx="36.6" cy="120.1" r="1.3" fill="#111"/><circle cx="39.5" cy="119.9" r="0.8" fill="#2a2a2a"/><circle cx="41.6" cy="120.8" r="1.1" fill="#666"/><circle cx="43.7" cy="120.7" r="1.3" fill="#2a2a2a"/><circle cx="46.5" cy="121.7" r="1.0" fill="#444"/></g>
<circle cx="39.4" cy="105.7" r="17.00" fill="none" stroke="#151515" stroke-opacity="0.85" stroke-width="0.8"/>
</g>
<g transform="translate(79.5 105.7) scale(1 0.9775) translate(-79.5 -105.7)">
<circle cx="79.5" cy="105.7" r="17.8" fill="#eaeaea" stroke="#8c8c8c" stroke-width="0.8"/>
<circle cx="79.5" cy="105.7" r="16.6" fill="none" stroke="#f2f2f2" stroke-width="1.1"/>
<circle cx="79.5" cy="105.7" r="15.8" fill="none" stroke="#c4c4c4" stroke-width="0.5"/>
<circle cx="76.70" cy="95.80" r="0.95" fill="#111"/>
<circle cx="83.00" cy="97.80" r="0.95" fill="#111"/>
<circle cx="65.30" cy="105.30" r="0.95" fill="#111"/>
</g>
<g transform="translate(119.3 105.7) scale(1 0.9775) translate(-119.3 -105.7)">
<circle cx="119.3" cy="105.7" r="17.8" fill="#eaeaea" stroke="#8c8c8c" stroke-width="0.8"/>
<circle cx="119.3" cy="105.7" r="16.6" fill="none" stroke="#f2f2f2" stroke-width="1.1"/>
<circle cx="119.3" cy="105.7" r="15.8" fill="none" stroke="#c4c4c4" stroke-width="0.5"/>
</g>
<line x1="20.2" y1="127.8" x2="40.0" y2="127.8" stroke="#555" stroke-width="1"/>
<text x="23.00" y="132.90" font-size="4.7" fill="#555">1.7 cm</text>
<text transform="translate(12.6 69.3) rotate(-90)" font-size="8.8" text-anchor="middle" fill="#111">- Dox</text>
<text transform="translate(12.6 105.0) rotate(-90)" font-size="8.8" text-anchor="middle" fill="#111">+ Dox</text>
<text x="56.00" y="152.00" font-size="8.9" font-weight="bold" text-anchor="start" fill="#111"  stroke="#111" stroke-width="0.18">MELHO (R)</text>
<text x="27.80" y="172.00" font-size="9.6" font-weight="normal" text-anchor="start" fill="#1a1a1a"  stroke="#1a1a1a" stroke-width="0.18">shNT</text>
<text x="62.50" y="172.00" font-size="9.6" font-weight="normal" text-anchor="start" fill="#1a1a1a"  stroke="#1a1a1a" stroke-width="0.18">shPLK1</text>
<text x="102.6" y="172.0" font-size="9.6" fill="#00b050">sh<tspan font-weight="bold">MITF</tspan></text>
<rect x="19.3" y="178.2" width="119.60000000000001" height="76.80000000000001" fill="#e5e5e5" stroke="#6a6a6a" stroke-width="1.5"/>
<rect x="20.400000000000002" y="179.29999999999998" width="117.4" height="74.60000000000001" fill="none" stroke="#f3f3f3" stroke-width="0.9"/>
<g transform="translate(37.9 196.7) scale(1 0.9719) translate(-37.9 -196.7)">
<clipPath id="cp7"><circle cx="37.9" cy="196.7" r="16.900000000000002"/></clipPath>
<circle cx="37.9" cy="196.7" r="18.400000000000002" fill="none" stroke="#efefef" stroke-width="1.2"/>
<circle cx="37.9" cy="196.7" r="17.8" fill="#bdbdbd" stroke="#777" stroke-width="0.7"/>
<g clip-path="url(#cp7)"><circle cx="35.7" cy="179.6" r="1.0" fill="#2a2a2a"/><circle cx="38.5" cy="179.7" r="0.7" fill="#181818"/><circle cx="39.9" cy="179.4" r="0.8" fill="#222"/><circle cx="32.6" cy="181.4" r="0.8" fill="#666"/><circle cx="35.1" cy="181.0" r="0.7" fill="#222"/><circle cx="37.0" cy="181.2" r="1.0" fill="#222"/><circle cx="38.1" cy="181.0" r="0.9" fill="#181818"/><circle cx="40.3" cy="180.2" r="0.8" fill="#444"/><circle cx="40.9" cy="180.8" r="0.6" fill="#181818"/><circle cx="42.9" cy="181.0" r="0.6" fill="#111"/><circle cx="45.2" cy="180.9" r="0.9" fill="#2a2a2a"/><circle cx="29.6" cy="182.3" r="0.6" fill="#181818"/><circle cx="30.5" cy="182.8" r="0.7" fill="#444"/><circle cx="32.2" cy="183.0" r="0.8" fill="#666"/><circle cx="34.2" cy="181.7" r="0.6" fill="#111"/><circle cx="36.5" cy="181.6" r="0.6" fill="#2a2a2a"/><circle cx="39.0" cy="182.3" r="0.8" fill="#181818"/><circle cx="39.3" cy="181.7" r="0.6" fill="#222"/><circle cx="41.3" cy="182.3" r="0.6" fill="#222"/><circle cx="43.5" cy="182.7" r="0.8" fill="#222"/><circle cx="45.4" cy="181.8" r="0.7" fill="#444"/><circle cx="47.5" cy="183.2" r="1.0" fill="#666"/><circle cx="48.3" cy="182.5" r="0.7" fill="#181818"/><circle cx="26.3" cy="184.8" r="0.7" fill="#181818"/><circle cx="28.1" cy="183.9" r="0.5" fill="#111"/><circle cx="28.5" cy="183.4" r="0.7" fill="#111"/><circle cx="31.8" cy="184.9" r="0.9" fill="#666"/><circle cx="33.1" cy="183.9" r="0.6" fill="#222"/><circle cx="34.3" cy="184.1" r="0.6" fill="#181818"/><circle cx="36.2" cy="183.4" r="0.7" fill="#222"/><circle cx="40.7" cy="184.1" r="1.0" fill="#2a2a2a"/><circle cx="41.5" cy="183.7" r="1.1" fill="#2a2a2a"/><circle cx="42.9" cy="184.1" r="0.6" fill="#444"/><circle cx="46.0" cy="184.3" r="0.6" fill="#111"/><circle cx="47.3" cy="184.0" r="0.8" fill="#444"/><circle cx="49.3" cy="183.5" r="1.0" fill="#666"/><circle cx="50.6" cy="185.1" r="1.0" fill="#181818"/><circle cx="25.5" cy="186.2" r="1.0" fill="#666"/><circle cx="26.8" cy="185.3" r="0.8" fill="#444"/><circle cx="33.0" cy="186.5" r="0.9" fill="#222"/><circle cx="34.9" cy="185.4" r="0.6" fill="#444"/><circle cx="36.6" cy="186.3" r="1.0" fill="#222"/><circle cx="37.9" cy="186.7" r="0.8" fill="#2a2a2a"/><circle cx="39.1" cy="186.7" r="0.7" fill="#2a2a2a"/><circle cx="42.0" cy="186.8" r="0.7" fill="#111"/><circle cx="44.0" cy="186.9" r="1.1" fill="#111"/><circle cx="46.2" cy="186.0" r="0.8" fill="#666"/><circle cx="46.3" cy="185.7" r="0.8" fill="#222"/><circle cx="49.5" cy="186.2" r="0.8" fill="#111"/><circle cx="50.2" cy="187.0" r="0.6" fill="#181818"/><circle cx="23.6" cy="188.8" r="1.0" fill="#2a2a2a"/><circle cx="25.9" cy="188.4" r="0.6" fill="#111"/><circle cx="27.0" cy="187.1" r="1.0" fill="#666"/><circle cx="28.5" cy="188.3" r="0.8" fill="#181818"/><circle cx="30.5" cy="188.5" r="0.8" fill="#222"/><circle cx="32.3" cy="188.3" r="0.9" fill="#181818"/><circle cx="33.7" cy="187.2" r="0.6" fill="#181818"/><circle cx="36.5" cy="187.2" r="0.9" fill="#111"/><circle cx="38.5" cy="188.0" r="0.9" fill="#181818"/><circle cx="39.9" cy="188.5" r="0.9" fill="#2a2a2a"/><circle cx="41.0" cy="187.2" r="1.0" fill="#2a2a2a"/><circle cx="42.6" cy="188.7" r="0.9" fill="#181818"/><circle cx="46.2" cy="187.7" r="0.9" fill="#111"/><circle cx="48.3" cy="187.3" r="0.8" fill="#111"/><circle cx="51.2" cy="188.1" r="0.8" fill="#444"/><circle cx="52.0" cy="187.3" r="1.0" fill="#2a2a2a"/><circle cx="22.0" cy="189.5" r="0.9" fill="#444"/><circle cx="22.9" cy="189.6" r="1.0" fill="#444"/><circle cx="27.4" cy="189.8" r="0.6" fill="#2a2a2a"/><circle cx="28.3" cy="189.3" r="1.0" fill="#181818"/><circle cx="32.1" cy="190.2" r="0.8" fill="#111"/><circle cx="34.3" cy="189.2" r="0.6" fill="#2a2a2a"/><circle cx="35.8" cy="188.9" r="0.8" fill="#666"/><circle cx="39.2" cy="190.5" r="1.1" fill="#444"/><circle cx="41.9" cy="188.9" r="0.9" fill="#111"/><circle cx="42.7" cy="190.2" r="0.6" fill="#111"/><circle cx="44.4" cy="190.1" r="0.6" fill="#2a2a2a"/><circle cx="46.3" cy="190.3" r="0.9" fill="#2a2a2a"/><circle cx="48.9" cy="189.1" r="1.0" fill="#111"/><circle cx="50.1" cy="188.9" r="0.8" fill="#181818"/><circle cx="52.8" cy="189.7" r="0.6" fill="#2a2a2a"/><circle cx="22.3" cy="190.9" r="0.9" fill="#2a2a2a"/><circle cx="23.9" cy="191.9" r="0.9" fill="#222"/><circle cx="24.9" cy="191.7" r="0.6" fill="#181818"/><circle cx="29.5" cy="192.0" r="0.8" fill="#2a2a2a"/><circle cx="30.9" cy="190.9" r="0.6" fill="#222"/><circle cx="32.3" cy="192.0" r="1.0" fill="#2a2a2a"/><circle cx="35.9" cy="191.9" r="0.6" fill="#222"/><circle cx="38.3" cy="192.2" r="1.0" fill="#666"/><circle cx="40.4" cy="191.6" r="0.6" fill="#2a2a2a"/><circle cx="40.8" cy="191.3" r="0.5" fill="#222"/><circle cx="44.6" cy="191.3" r="0.9" fill="#181818"/><circle cx="47.5" cy="191.5" r="0.8" fill="#111"/><circle cx="50.4" cy="191.9" r="1.0" fill="#2a2a2a"/><circle cx="53.1" cy="192.2" r="1.1" fill="#181818"/><circle cx="53.6" cy="190.9" r="0.7" fill="#2a2a2a"/><circle cx="21.8" cy="192.8" r="0.8" fill="#2a2a2a"/><circle cx="23.3" cy="192.5" r="0.6" fill="#111"/><circle cx="25.8" cy="193.2" r="0.9" fill="#181818"/><circle cx="27.6" cy="193.5" r="0.7" fill="#222"/><circle cx="29.9" cy="192.4" r="0.7" fill="#222"/><circle cx="31.3" cy="193.7" r="1.0" fill="#181818"/><circle cx="33.0" cy="193.2" r="0.6" fill="#222"/><circle cx="35.0" cy="193.6" r="1.0" fill="#444"/><circle cx="36.3" cy="192.4" r="0.6" fill="#181818"/><circle cx="40.5" cy="193.9" r="0.5" fill="#666"/><circle cx="42.4" cy="193.8" r="1.1" fill="#444"/><circle cx="43.9" cy="192.8" r="1.0" fill="#2a2a2a"/><circle cx="45.9" cy="193.0" r="0.9" fill="#222"/><circle cx="47.4" cy="194.0" r="1.0" fill="#111"/><circle cx="48.1" cy="192.6" r="0.9" fill="#666"/><circle cx="50.4" cy="192.8" r="0.7" fill="#111"/><circle cx="52.8" cy="194.1" r="0.8" fill="#2a2a2a"/><circle cx="53.5" cy="193.4" r="0.7" fill="#666"/><circle cx="22.0" cy="195.8" r="0.9" fill="#666"/><circle cx="23.9" cy="195.3" r="0.8" fill="#2a2a2a"/><circle cx="25.9" cy="194.9" r="0.9" fill="#666"/><circle cx="28.4" cy="195.5" r="1.0" fill="#2a2a2a"/><circle cx="32.5" cy="194.3" r="0.9" fill="#111"/><circle cx="34.3" cy="194.5" r="1.0" fill="#181818"/><circle cx="36.1" cy="194.7" r="1.0" fill="#222"/><circle cx="40.4" cy="195.9" r="1.0" fill="#222"/><circle cx="42.4" cy="195.8" r="0.8" fill="#181818"/><circle cx="43.6" cy="195.0" r="0.7" fill="#111"/><circle cx="47.6" cy="195.7" r="0.6" fill="#181818"/><circle cx="48.3" cy="194.6" r="1.1" fill="#666"/><circle cx="50.4" cy="195.2" r="0.5" fill="#2a2a2a"/><circle cx="52.6" cy="195.8" r="0.5" fill="#222"/><circle cx="53.5" cy="195.3" r="0.6" fill="#111"/><circle cx="21.8" cy="197.5" r="0.8" fill="#222"/><circle cx="23.7" cy="197.5" r="0.7" fill="#2a2a2a"/><circle cx="25.5" cy="196.7" r="0.7" fill="#181818"/><circle cx="27.0" cy="197.1" r="0.8" fill="#2a2a2a"/><circle cx="31.5" cy="196.6" r="0.6" fill="#444"/><circle cx="33.0" cy="196.1" r="0.8" fill="#444"/><circle cx="35.3" cy="197.4" r="1.0" fill="#222"/><circle cx="35.5" cy="196.8" r="0.7" fill="#181818"/><circle cx="38.4" cy="197.2" r="0.8" fill="#181818"/><circle cx="39.8" cy="197.7" r="0.6" fill="#181818"/><circle cx="42.4" cy="196.9" r="0.7" fill="#666"/><circle cx="45.2" cy="196.5" r="0.5" fill="#111"/><circle cx="48.9" cy="196.3" r="0.9" fill="#222"/><circle cx="50.8" cy="196.0" r="0.6" fill="#222"/><circle cx="52.7" cy="197.1" r="0.6" fill="#444"/><circle cx="53.8" cy="196.6" r="1.0" fill="#181818"/><circle cx="20.8" cy="198.2" r="0.9" fill="#2a2a2a"/><circle cx="22.2" cy="197.9" r="0.9" fill="#111"/><circle cx="24.0" cy="199.4" r="0.9" fill="#666"/><circle cx="25.7" cy="198.4" r="0.9" fill="#444"/><circle cx="26.6" cy="199.4" r="0.7" fill="#222"/><circle cx="28.8" cy="198.6" r="0.6" fill="#181818"/><circle cx="31.4" cy="198.2" r="0.8" fill="#666"/><circle cx="32.9" cy="197.9" r="0.9" fill="#111"/><circle cx="34.9" cy="199.4" r="0.8" fill="#222"/><circle cx="36.3" cy="198.5" r="0.8" fill="#666"/><circle cx="38.0" cy="198.3" r="0.8" fill="#111"/><circle cx="40.8" cy="198.9" r="0.7" fill="#181818"/><circle cx="41.0" cy="198.0" r="0.8" fill="#181818"/><circle cx="43.8" cy="199.3" r="0.8" fill="#222"/><circle cx="45.7" cy="198.2" r="0.8" fill="#666"/><circle cx="47.8" cy="197.9" r="0.8" fill="#666"/><circle cx="49.3" cy="199.2" r="0.8" fill="#181818"/><circle cx="51.0" cy="197.9" r="0.9" fill="#222"/><circle cx="52.5" cy="199.0" r="0.9" fill="#2a2a2a"/><circle cx="53.8" cy="199.3" r="0.9" fill="#181818"/><circle cx="21.6" cy="199.9" r="0.8" fill="#666"/><circle cx="22.9" cy="200.4" r="1.1" fill="#2a2a2a"/><circle cx="28.4" cy="200.6" r="1.1" fill="#181818"/><circle cx="31.5" cy="199.8" r="0.6" fill="#2a2a2a"/><circle cx="35.4" cy="200.2" r="0.5" fill="#444"/><circle cx="36.0" cy="200.2" r="0.9" fill="#181818"/><circle cx="38.3" cy="201.1" r="1.0" fill="#2a2a2a"/><circle cx="39.4" cy="199.9" r="0.9" fill="#181818"/><circle cx="41.3" cy="200.7" r="0.6" fill="#222"/><circle cx="43.4" cy="199.8" r="0.5" fill="#222"/><circle cx="44.8" cy="200.8" r="1.0" fill="#111"/><circle cx="47.1" cy="201.1" r="1.0" fill="#111"/><circle cx="48.5" cy="199.8" r="1.0" fill="#2a2a2a"/><circle cx="52.9" cy="201.4" r="0.7" fill="#444"/><circle cx="53.8" cy="200.6" r="0.8" fill="#222"/><circle cx="22.8" cy="202.4" r="0.8" fill="#666"/><circle cx="24.8" cy="201.9" r="0.8" fill="#222"/><circle cx="26.7" cy="202.6" r="0.6" fill="#666"/><circle cx="33.0" cy="202.0" r="0.8" fill="#444"/><circle cx="34.5" cy="202.7" r="0.6" fill="#111"/><circle cx="36.3" cy="202.3" r="0.6" fill="#222"/><circle cx="38.1" cy="201.5" r="0.7" fill="#222"/><circle cx="40.8" cy="203.0" r="1.0" fill="#111"/><circle cx="41.4" cy="203.1" r="0.6" fill="#444"/><circle cx="47.2" cy="202.9" r="0.7" fill="#2a2a2a"/><circle cx="48.7" cy="202.7" r="1.0" fill="#111"/><circle cx="50.4" cy="201.9" r="1.1" fill="#444"/><circle cx="52.6" cy="202.2" r="0.6" fill="#181818"/><circle cx="54.1" cy="202.7" r="1.1" fill="#2a2a2a"/><circle cx="22.7" cy="203.7" r="0.5" fill="#444"/><circle cx="24.3" cy="203.3" r="0.7" fill="#666"/><circle cx="27.3" cy="205.0" r="0.6" fill="#222"/><circle cx="29.2" cy="204.9" r="1.0" fill="#222"/><circle cx="30.5" cy="204.2" r="0.5" fill="#444"/><circle cx="32.1" cy="203.7" r="1.1" fill="#666"/><circle cx="34.2" cy="204.1" r="0.8" fill="#181818"/><circle cx="39.0" cy="204.0" r="0.6" fill="#444"/><circle cx="40.4" cy="203.9" r="0.7" fill="#666"/><circle cx="41.0" cy="203.7" r="0.9" fill="#2a2a2a"/><circle cx="43.8" cy="204.7" r="1.0" fill="#111"/><circle cx="45.5" cy="204.3" r="0.5" fill="#666"/><circle cx="46.5" cy="204.5" r="0.9" fill="#111"/><circle cx="50.6" cy="203.8" r="1.0" fill="#181818"/><circle cx="52.3" cy="204.7" r="1.0" fill="#2a2a2a"/><circle cx="23.9" cy="206.0" r="0.6" fill="#222"/><circle cx="26.2" cy="205.2" r="0.7" fill="#111"/><circle cx="26.8" cy="206.1" r="0.6" fill="#222"/><circle cx="28.2" cy="205.3" r="0.9" fill="#444"/><circle cx="31.5" cy="205.7" r="0.7" fill="#111"/><circle cx="33.0" cy="205.8" r="0.9" fill="#111"/><circle cx="36.0" cy="206.0" r="0.7" fill="#111"/><circle cx="37.3" cy="206.2" r="0.9" fill="#111"/><circle cx="40.7" cy="205.5" r="1.0" fill="#2a2a2a"/><circle cx="41.5" cy="206.1" r="1.0" fill="#181818"/><circle cx="45.9" cy="206.2" r="0.7" fill="#111"/><circle cx="47.3" cy="206.1" r="1.0" fill="#222"/><circle cx="48.9" cy="205.8" r="0.7" fill="#444"/><circle cx="50.0" cy="205.9" r="0.7" fill="#111"/><circle cx="52.8" cy="206.1" r="1.0" fill="#444"/><circle cx="25.1" cy="208.3" r="0.5" fill="#444"/><circle cx="27.8" cy="207.2" r="0.9" fill="#2a2a2a"/><circle cx="29.5" cy="207.8" r="0.8" fill="#2a2a2a"/><circle cx="30.5" cy="208.5" r="0.7" fill="#181818"/><circle cx="32.7" cy="208.0" r="0.8" fill="#111"/><circle cx="34.2" cy="208.1" r="0.6" fill="#444"/><circle cx="37.3" cy="208.0" r="0.8" fill="#222"/><circle cx="40.1" cy="206.9" r="0.9" fill="#181818"/><circle cx="43.7" cy="208.3" r="0.6" fill="#181818"/><circle cx="45.8" cy="207.5" r="0.7" fill="#222"/><circle cx="46.7" cy="208.2" r="0.6" fill="#222"/><circle cx="49.2" cy="207.0" r="1.1" fill="#666"/><circle cx="50.6" cy="207.5" r="1.1" fill="#222"/><circle cx="52.2" cy="207.3" r="0.6" fill="#111"/><circle cx="25.8" cy="209.1" r="0.6" fill="#111"/><circle cx="26.6" cy="209.6" r="0.7" fill="#666"/><circle cx="28.7" cy="210.2" r="0.5" fill="#666"/><circle cx="30.7" cy="209.8" r="1.1" fill="#666"/><circle cx="33.1" cy="210.3" r="0.5" fill="#444"/><circle cx="37.2" cy="208.7" r="0.6" fill="#666"/><circle cx="39.6" cy="209.2" r="0.8" fill="#666"/><circle cx="41.7" cy="209.6" r="0.5" fill="#2a2a2a"/><circle cx="43.7" cy="208.6" r="1.0" fill="#111"/><circle cx="46.1" cy="209.0" r="0.9" fill="#111"/><circle cx="46.5" cy="208.9" r="0.8" fill="#222"/><circle cx="48.6" cy="209.3" r="0.6" fill="#444"/><circle cx="50.3" cy="209.3" r="0.6" fill="#666"/><circle cx="28.7" cy="210.6" r="1.0" fill="#444"/><circle cx="31.1" cy="210.7" r="0.8" fill="#2a2a2a"/><circle cx="31.9" cy="211.9" r="1.1" fill="#2a2a2a"/><circle cx="35.2" cy="211.3" r="1.0" fill="#111"/><circle cx="35.8" cy="212.0" r="0.5" fill="#181818"/><circle cx="38.7" cy="212.1" r="0.6" fill="#666"/><circle cx="40.3" cy="211.5" r="0.6" fill="#666"/><circle cx="41.5" cy="212.2" r="1.1" fill="#181818"/><circle cx="43.4" cy="211.0" r="0.5" fill="#2a2a2a"/><circle cx="44.8" cy="211.6" r="1.0" fill="#181818"/><circle cx="33.9" cy="213.9" r="0.8" fill="#444"/><circle cx="36.4" cy="213.9" r="1.0" fill="#444"/><circle cx="38.4" cy="212.3" r="0.6" fill="#222"/><circle cx="39.8" cy="213.8" r="0.7" fill="#181818"/><circle cx="41.9" cy="213.8" r="0.7" fill="#444"/><circle cx="44.5" cy="212.8" r="1.0" fill="#111"/></g>
<circle cx="37.9" cy="196.7" r="16.55" fill="none" stroke="#151515" stroke-opacity="0.85" stroke-width="1.7"/>
</g>
<g transform="translate(78.5 196.7) scale(1 0.9719) translate(-78.5 -196.7)">
<clipPath id="cp8"><circle cx="78.5" cy="196.7" r="16.900000000000002"/></clipPath>
<circle cx="78.5" cy="196.7" r="18.400000000000002" fill="none" stroke="#efefef" stroke-width="1.2"/>
<circle cx="78.5" cy="196.7" r="17.8" fill="#c6c6c6" stroke="#777" stroke-width="0.7"/>
<g clip-path="url(#cp8)"><circle cx="75.7" cy="179.6" r="0.6" fill="#666"/><circle cx="79.7" cy="179.0" r="0.8" fill="#666"/><circle cx="73.0" cy="180.6" r="1.0" fill="#222"/><circle cx="75.1" cy="180.0" r="0.7" fill="#222"/><circle cx="77.7" cy="181.1" r="0.5" fill="#111"/><circle cx="79.5" cy="180.1" r="0.8" fill="#2a2a2a"/><circle cx="79.7" cy="179.9" r="0.8" fill="#2a2a2a"/><circle cx="81.8" cy="181.2" r="0.9" fill="#666"/><circle cx="83.4" cy="179.8" r="0.9" fill="#2a2a2a"/><circle cx="68.1" cy="182.5" r="0.7" fill="#181818"/><circle cx="69.4" cy="181.7" r="1.0" fill="#666"/><circle cx="72.3" cy="183.4" r="0.7" fill="#181818"/><circle cx="73.0" cy="182.2" r="0.8" fill="#444"/><circle cx="75.1" cy="183.2" r="0.9" fill="#111"/><circle cx="78.6" cy="181.9" r="0.8" fill="#444"/><circle cx="81.0" cy="182.3" r="0.8" fill="#444"/><circle cx="84.3" cy="183.1" r="1.0" fill="#2a2a2a"/><circle cx="86.6" cy="183.4" r="0.7" fill="#222"/><circle cx="87.4" cy="183.0" r="0.6" fill="#2a2a2a"/><circle cx="67.8" cy="185.0" r="0.8" fill="#444"/><circle cx="71.4" cy="183.7" r="0.7" fill="#2a2a2a"/><circle cx="78.9" cy="184.2" r="0.7" fill="#2a2a2a"/><circle cx="80.7" cy="183.9" r="0.7" fill="#666"/><circle cx="82.5" cy="184.8" r="1.0" fill="#2a2a2a"/><circle cx="85.8" cy="183.6" r="0.6" fill="#444"/><circle cx="87.7" cy="184.6" r="0.9" fill="#222"/><circle cx="90.2" cy="185.0" r="1.0" fill="#222"/><circle cx="66.4" cy="186.6" r="0.7" fill="#444"/><circle cx="67.5" cy="185.9" r="0.9" fill="#666"/><circle cx="72.0" cy="185.8" r="1.0" fill="#2a2a2a"/><circle cx="77.0" cy="186.7" r="0.8" fill="#222"/><circle cx="78.3" cy="185.6" r="0.8" fill="#181818"/><circle cx="81.1" cy="186.7" r="0.7" fill="#444"/><circle cx="84.7" cy="186.3" r="1.0" fill="#222"/><circle cx="86.1" cy="186.7" r="0.9" fill="#181818"/><circle cx="86.9" cy="186.7" r="0.7" fill="#666"/><circle cx="89.7" cy="185.8" r="0.9" fill="#666"/><circle cx="91.1" cy="185.2" r="1.0" fill="#444"/><circle cx="64.1" cy="188.1" r="0.7" fill="#181818"/><circle cx="68.7" cy="187.1" r="0.6" fill="#444"/><circle cx="70.5" cy="187.1" r="0.6" fill="#444"/><circle cx="71.4" cy="188.7" r="0.6" fill="#181818"/><circle cx="73.3" cy="187.7" r="0.9" fill="#666"/><circle cx="77.2" cy="187.9" r="0.9" fill="#181818"/><circle cx="78.5" cy="188.7" r="1.0" fill="#222"/><circle cx="81.0" cy="188.5" r="0.6" fill="#181818"/><circle cx="82.3" cy="187.0" r="0.6" fill="#2a2a2a"/><circle cx="83.7" cy="187.1" r="1.0" fill="#181818"/><circle cx="90.3" cy="187.2" r="0.6" fill="#181818"/><circle cx="93.2" cy="187.4" r="0.8" fill="#666"/><circle cx="62.4" cy="189.7" r="0.9" fill="#666"/><circle cx="64.1" cy="189.8" r="0.8" fill="#2a2a2a"/><circle cx="66.4" cy="189.9" r="0.6" fill="#666"/><circle cx="71.3" cy="189.1" r="0.8" fill="#444"/><circle cx="74.6" cy="188.9" r="0.5" fill="#666"/><circle cx="76.7" cy="189.2" r="0.7" fill="#444"/><circle cx="82.3" cy="189.4" r="0.9" fill="#2a2a2a"/><circle cx="84.5" cy="188.9" r="0.6" fill="#181818"/><circle cx="86.6" cy="190.2" r="0.8" fill="#222"/><circle cx="87.8" cy="189.4" r="1.0" fill="#444"/><circle cx="89.0" cy="188.9" r="0.7" fill="#444"/><circle cx="92.0" cy="189.9" r="0.6" fill="#2a2a2a"/><circle cx="93.9" cy="189.2" r="0.9" fill="#181818"/><circle cx="94.7" cy="189.9" r="0.5" fill="#111"/><circle cx="62.8" cy="192.1" r="0.9" fill="#222"/><circle cx="63.4" cy="190.9" r="1.0" fill="#181818"/><circle cx="68.6" cy="191.2" r="0.7" fill="#666"/><circle cx="74.2" cy="190.8" r="1.0" fill="#666"/><circle cx="76.3" cy="191.1" r="0.6" fill="#444"/><circle cx="81.6" cy="190.6" r="1.0" fill="#111"/><circle cx="84.2" cy="191.2" r="0.8" fill="#222"/><circle cx="89.0" cy="191.1" r="0.6" fill="#666"/><circle cx="91.8" cy="190.9" r="0.8" fill="#111"/><circle cx="93.4" cy="190.7" r="0.6" fill="#444"/><circle cx="62.6" cy="192.8" r="0.7" fill="#181818"/><circle cx="64.1" cy="192.9" r="0.7" fill="#444"/><circle cx="67.7" cy="194.1" r="0.7" fill="#444"/><circle cx="71.4" cy="193.8" r="0.8" fill="#222"/><circle cx="72.9" cy="193.4" r="0.7" fill="#2a2a2a"/><circle cx="77.1" cy="193.3" r="0.5" fill="#222"/><circle cx="81.2" cy="193.2" r="0.6" fill="#666"/><circle cx="84.9" cy="193.2" r="0.9" fill="#111"/><circle cx="87.9" cy="193.5" r="0.6" fill="#2a2a2a"/><circle cx="88.8" cy="193.8" r="0.9" fill="#181818"/><circle cx="95.5" cy="192.7" r="0.6" fill="#666"/><circle cx="63.1" cy="194.9" r="0.8" fill="#2a2a2a"/><circle cx="64.0" cy="195.7" r="0.8" fill="#444"/><circle cx="66.8" cy="195.7" r="0.5" fill="#666"/><circle cx="67.9" cy="194.4" r="0.8" fill="#222"/><circle cx="70.3" cy="195.8" r="0.6" fill="#111"/><circle cx="76.0" cy="195.0" r="0.6" fill="#2a2a2a"/><circle cx="83.0" cy="194.9" r="0.6" fill="#181818"/><circle cx="83.7" cy="194.9" r="0.9" fill="#666"/><circle cx="85.9" cy="195.6" r="0.9" fill="#222"/><circle cx="86.9" cy="194.7" r="0.8" fill="#181818"/><circle cx="89.0" cy="195.2" r="0.6" fill="#222"/><circle cx="93.1" cy="194.2" r="1.0" fill="#181818"/><circle cx="94.5" cy="194.2" r="0.8" fill="#666"/><circle cx="60.9" cy="197.5" r="0.7" fill="#111"/><circle cx="62.5" cy="197.4" r="0.6" fill="#2a2a2a"/><circle cx="67.9" cy="197.5" r="0.6" fill="#222"/><circle cx="69.2" cy="196.8" r="0.9" fill="#2a2a2a"/><circle cx="75.2" cy="197.3" r="0.8" fill="#111"/><circle cx="77.9" cy="197.6" r="0.8" fill="#444"/><circle cx="79.8" cy="196.9" r="1.0" fill="#444"/><circle cx="83.0" cy="196.9" r="0.8" fill="#2a2a2a"/><circle cx="84.3" cy="196.3" r="0.8" fill="#2a2a2a"/><circle cx="85.1" cy="196.3" r="0.6" fill="#181818"/><circle cx="88.4" cy="197.4" r="0.8" fill="#222"/><circle cx="90.4" cy="196.9" r="0.8" fill="#2a2a2a"/><circle cx="91.8" cy="197.4" r="0.6" fill="#2a2a2a"/><circle cx="93.4" cy="196.7" r="0.7" fill="#444"/><circle cx="95.8" cy="196.7" r="1.0" fill="#2a2a2a"/><circle cx="61.2" cy="199.0" r="0.5" fill="#444"/><circle cx="61.6" cy="198.3" r="0.9" fill="#444"/><circle cx="64.1" cy="198.1" r="1.0" fill="#111"/><circle cx="67.0" cy="199.4" r="0.9" fill="#666"/><circle cx="67.8" cy="199.4" r="0.9" fill="#666"/><circle cx="70.0" cy="198.3" r="1.0" fill="#222"/><circle cx="73.1" cy="198.6" r="0.9" fill="#444"/><circle cx="74.3" cy="199.1" r="0.8" fill="#222"/><circle cx="80.4" cy="198.3" r="0.7" fill="#666"/><circle cx="82.9" cy="199.0" r="0.6" fill="#181818"/><circle cx="84.9" cy="198.4" r="0.7" fill="#111"/><circle cx="85.5" cy="199.6" r="1.0" fill="#111"/><circle cx="88.3" cy="197.8" r="0.6" fill="#222"/><circle cx="89.9" cy="198.0" r="0.9" fill="#111"/><circle cx="90.6" cy="199.3" r="0.9" fill="#181818"/><circle cx="93.2" cy="198.8" r="0.8" fill="#666"/><circle cx="95.5" cy="198.7" r="0.5" fill="#181818"/><circle cx="61.6" cy="199.9" r="0.8" fill="#666"/><circle cx="63.0" cy="200.4" r="0.8" fill="#444"/><circle cx="64.4" cy="201.3" r="1.0" fill="#181818"/><circle cx="66.5" cy="201.2" r="0.9" fill="#181818"/><circle cx="71.2" cy="201.4" r="1.0" fill="#111"/><circle cx="73.8" cy="201.0" r="0.9" fill="#181818"/><circle cx="74.4" cy="200.0" r="1.0" fill="#2a2a2a"/><circle cx="76.8" cy="199.7" r="0.9" fill="#666"/><circle cx="79.1" cy="200.2" r="0.7" fill="#181818"/><circle cx="81.4" cy="200.2" r="1.0" fill="#2a2a2a"/><circle cx="81.9" cy="201.2" r="0.5" fill="#111"/><circle cx="83.5" cy="201.4" r="0.5" fill="#2a2a2a"/><circle cx="85.7" cy="199.7" r="0.6" fill="#111"/><circle cx="87.4" cy="200.0" r="0.6" fill="#444"/><circle cx="88.8" cy="200.4" r="0.7" fill="#444"/><circle cx="92.3" cy="200.9" r="0.9" fill="#181818"/><circle cx="95.2" cy="200.2" r="1.0" fill="#666"/><circle cx="72.4" cy="202.4" r="0.8" fill="#444"/><circle cx="73.7" cy="201.9" r="0.7" fill="#2a2a2a"/><circle cx="77.0" cy="203.1" r="0.6" fill="#222"/><circle cx="77.9" cy="202.5" r="0.8" fill="#181818"/><circle cx="80.9" cy="202.7" r="0.9" fill="#444"/><circle cx="84.2" cy="202.8" r="0.7" fill="#111"/><circle cx="86.1" cy="201.7" r="0.9" fill="#666"/><circle cx="88.1" cy="201.9" r="0.7" fill="#444"/><circle cx="88.9" cy="202.9" r="0.7" fill="#2a2a2a"/><circle cx="91.5" cy="202.0" r="0.7" fill="#181818"/><circle cx="92.7" cy="202.6" r="0.5" fill="#444"/><circle cx="94.6" cy="202.1" r="1.0" fill="#181818"/><circle cx="63.3" cy="204.7" r="0.9" fill="#181818"/><circle cx="65.1" cy="205.0" r="0.6" fill="#111"/><circle cx="66.1" cy="204.0" r="0.5" fill="#181818"/><circle cx="67.1" cy="203.2" r="0.7" fill="#666"/><circle cx="70.5" cy="204.0" r="0.8" fill="#222"/><circle cx="71.4" cy="204.8" r="0.8" fill="#444"/><circle cx="74.8" cy="203.8" r="0.6" fill="#222"/><circle cx="77.0" cy="203.8" r="0.8" fill="#222"/><circle cx="78.2" cy="203.6" r="0.9" fill="#111"/><circle cx="81.3" cy="204.8" r="0.7" fill="#181818"/><circle cx="83.2" cy="203.8" r="0.5" fill="#181818"/><circle cx="86.1" cy="204.6" r="1.0" fill="#222"/><circle cx="87.6" cy="204.0" r="0.6" fill="#111"/><circle cx="89.4" cy="204.3" r="0.7" fill="#181818"/><circle cx="91.1" cy="204.0" r="0.7" fill="#2a2a2a"/><circle cx="92.3" cy="204.7" r="0.8" fill="#111"/><circle cx="64.0" cy="206.4" r="0.5" fill="#2a2a2a"/><circle cx="68.8" cy="206.2" r="0.8" fill="#666"/><circle cx="71.2" cy="206.4" r="0.7" fill="#222"/><circle cx="72.5" cy="205.0" r="0.7" fill="#181818"/><circle cx="75.3" cy="206.8" r="0.8" fill="#181818"/><circle cx="77.9" cy="206.5" r="1.0" fill="#222"/><circle cx="80.0" cy="205.2" r="0.7" fill="#222"/><circle cx="82.7" cy="206.5" r="0.8" fill="#2a2a2a"/><circle cx="85.8" cy="205.2" r="1.0" fill="#111"/><circle cx="88.7" cy="206.3" r="0.7" fill="#2a2a2a"/><circle cx="90.6" cy="205.1" r="0.9" fill="#666"/><circle cx="64.0" cy="206.9" r="0.6" fill="#181818"/><circle cx="72.9" cy="207.4" r="1.0" fill="#2a2a2a"/><circle cx="75.8" cy="208.2" r="1.0" fill="#2a2a2a"/><circle cx="77.6" cy="208.0" r="0.7" fill="#181818"/><circle cx="80.6" cy="207.4" r="0.7" fill="#111"/><circle cx="82.5" cy="207.8" r="0.7" fill="#444"/><circle cx="85.2" cy="208.5" r="0.8" fill="#2a2a2a"/><circle cx="88.4" cy="207.4" r="0.7" fill="#666"/><circle cx="89.5" cy="207.1" r="0.8" fill="#666"/><circle cx="91.9" cy="208.0" r="0.6" fill="#181818"/><circle cx="67.8" cy="210.0" r="0.7" fill="#666"/><circle cx="69.8" cy="210.3" r="0.8" fill="#181818"/><circle cx="75.2" cy="210.2" r="0.8" fill="#111"/><circle cx="80.3" cy="209.8" r="0.6" fill="#444"/><circle cx="83.1" cy="210.3" r="1.0" fill="#181818"/><circle cx="84.1" cy="208.8" r="0.8" fill="#666"/><circle cx="85.7" cy="209.8" r="1.0" fill="#666"/><circle cx="87.2" cy="210.2" r="0.9" fill="#444"/><circle cx="90.1" cy="209.1" r="0.9" fill="#222"/><circle cx="72.4" cy="211.7" r="0.8" fill="#111"/><circle cx="75.1" cy="211.0" r="0.7" fill="#111"/><circle cx="77.7" cy="211.2" r="0.8" fill="#222"/><circle cx="80.3" cy="210.5" r="0.8" fill="#181818"/><circle cx="84.4" cy="211.8" r="0.8" fill="#444"/><circle cx="85.3" cy="210.9" r="0.9" fill="#111"/><circle cx="73.7" cy="212.7" r="0.8" fill="#181818"/><circle cx="74.4" cy="212.4" r="0.8" fill="#666"/><circle cx="76.3" cy="212.2" r="1.0" fill="#222"/><circle cx="79.2" cy="213.4" r="1.0" fill="#444"/><circle cx="83.0" cy="212.7" r="0.8" fill="#111"/><circle cx="84.2" cy="213.5" r="0.7" fill="#444"/></g>
<circle cx="78.5" cy="196.7" r="16.55" fill="none" stroke="#151515" stroke-opacity="0.85" stroke-width="1.7"/>
</g>
<g transform="translate(118.6 196.7) scale(1 0.9719) translate(-118.6 -196.7)">
<clipPath id="cp9"><circle cx="118.6" cy="196.7" r="16.900000000000002"/></clipPath>
<circle cx="118.6" cy="196.7" r="18.400000000000002" fill="none" stroke="#efefef" stroke-width="1.2"/>
<circle cx="118.6" cy="196.7" r="17.8" fill="#8a8a8a" stroke="#777" stroke-width="0.7"/>
<g clip-path="url(#cp9)"><circle cx="114.0" cy="179.7" r="1.1" fill="#111"/><circle cx="114.6" cy="179.4" r="1.1" fill="#444"/><circle cx="117.1" cy="179.7" r="0.9" fill="#666"/><circle cx="119.8" cy="179.7" r="1.1" fill="#181818"/><circle cx="110.9" cy="180.8" r="0.8" fill="#111"/><circle cx="113.9" cy="180.4" r="0.7" fill="#666"/><circle cx="114.4" cy="180.2" r="1.0" fill="#666"/><circle cx="117.7" cy="179.8" r="1.0" fill="#2a2a2a"/><circle cx="123.2" cy="181.0" r="0.6" fill="#444"/><circle cx="123.8" cy="181.4" r="0.7" fill="#181818"/><circle cx="107.9" cy="183.3" r="0.7" fill="#222"/><circle cx="110.4" cy="183.3" r="1.1" fill="#444"/><circle cx="111.7" cy="182.4" r="0.7" fill="#444"/><circle cx="112.8" cy="183.3" r="0.7" fill="#181818"/><circle cx="116.1" cy="183.0" r="0.8" fill="#444"/><circle cx="116.3" cy="181.8" r="1.1" fill="#666"/><circle cx="118.9" cy="181.9" r="1.1" fill="#181818"/><circle cx="120.7" cy="182.5" r="0.7" fill="#111"/><circle cx="123.0" cy="182.4" r="0.7" fill="#222"/><circle cx="123.5" cy="182.8" r="0.6" fill="#666"/><circle cx="127.1" cy="183.2" r="0.6" fill="#444"/><circle cx="130.2" cy="183.3" r="0.6" fill="#2a2a2a"/><circle cx="107.7" cy="184.8" r="0.6" fill="#666"/><circle cx="110.5" cy="184.0" r="0.6" fill="#181818"/><circle cx="112.4" cy="184.9" r="0.7" fill="#111"/><circle cx="113.7" cy="184.0" r="0.8" fill="#181818"/><circle cx="115.2" cy="185.2" r="1.0" fill="#111"/><circle cx="116.9" cy="184.4" r="0.9" fill="#181818"/><circle cx="119.1" cy="183.7" r="1.1" fill="#2a2a2a"/><circle cx="122.2" cy="184.5" r="1.0" fill="#181818"/><circle cx="124.1" cy="184.0" r="1.0" fill="#181818"/><circle cx="125.6" cy="183.8" r="0.7" fill="#111"/><circle cx="128.0" cy="184.0" r="0.6" fill="#444"/><circle cx="129.4" cy="183.7" r="0.6" fill="#222"/><circle cx="106.4" cy="186.8" r="0.7" fill="#444"/><circle cx="108.7" cy="186.7" r="0.7" fill="#111"/><circle cx="109.5" cy="186.9" r="1.1" fill="#111"/><circle cx="110.8" cy="186.2" r="1.0" fill="#2a2a2a"/><circle cx="113.2" cy="186.3" r="0.8" fill="#181818"/><circle cx="115.7" cy="185.6" r="0.8" fill="#666"/><circle cx="117.8" cy="185.6" r="0.8" fill="#2a2a2a"/><circle cx="119.1" cy="185.8" r="0.6" fill="#444"/><circle cx="120.6" cy="186.0" r="0.6" fill="#2a2a2a"/><circle cx="122.9" cy="185.6" r="0.8" fill="#666"/><circle cx="124.7" cy="185.8" r="0.7" fill="#181818"/><circle cx="126.0" cy="186.1" r="1.1" fill="#2a2a2a"/><circle cx="127.1" cy="187.0" r="0.7" fill="#181818"/><circle cx="129.1" cy="185.7" r="0.6" fill="#2a2a2a"/><circle cx="130.6" cy="186.8" r="0.9" fill="#444"/><circle cx="105.2" cy="188.3" r="0.9" fill="#2a2a2a"/><circle cx="107.0" cy="188.4" r="0.8" fill="#2a2a2a"/><circle cx="109.6" cy="187.4" r="1.0" fill="#222"/><circle cx="111.6" cy="187.3" r="0.9" fill="#111"/><circle cx="112.6" cy="187.7" r="1.0" fill="#181818"/><circle cx="115.5" cy="188.0" r="1.0" fill="#222"/><circle cx="116.1" cy="188.1" r="0.6" fill="#181818"/><circle cx="118.5" cy="188.2" r="0.7" fill="#111"/><circle cx="120.5" cy="187.7" r="0.6" fill="#222"/><circle cx="122.5" cy="187.6" r="1.0" fill="#2a2a2a"/><circle cx="123.5" cy="188.2" r="1.1" fill="#666"/><circle cx="126.7" cy="188.5" r="1.1" fill="#666"/><circle cx="127.5" cy="187.1" r="1.1" fill="#444"/><circle cx="129.9" cy="188.6" r="1.0" fill="#111"/><circle cx="132.0" cy="187.7" r="0.9" fill="#2a2a2a"/><circle cx="133.7" cy="188.2" r="0.9" fill="#666"/><circle cx="103.2" cy="190.0" r="1.0" fill="#181818"/><circle cx="104.6" cy="190.3" r="0.8" fill="#2a2a2a"/><circle cx="106.1" cy="190.3" r="0.7" fill="#111"/><circle cx="110.5" cy="189.5" r="1.0" fill="#444"/><circle cx="111.7" cy="190.5" r="0.9" fill="#222"/><circle cx="113.8" cy="189.4" r="1.1" fill="#222"/><circle cx="115.4" cy="190.0" r="1.0" fill="#444"/><circle cx="116.9" cy="189.6" r="1.1" fill="#2a2a2a"/><circle cx="119.7" cy="188.8" r="0.9" fill="#2a2a2a"/><circle cx="121.7" cy="189.1" r="0.6" fill="#2a2a2a"/><circle cx="126.4" cy="189.3" r="0.8" fill="#111"/><circle cx="127.2" cy="189.2" r="0.6" fill="#444"/><circle cx="130.0" cy="189.3" r="0.9" fill="#111"/><circle cx="131.3" cy="190.4" r="1.1" fill="#181818"/><circle cx="132.7" cy="188.9" r="0.6" fill="#222"/><circle cx="103.4" cy="192.4" r="0.8" fill="#111"/><circle cx="104.8" cy="192.1" r="0.8" fill="#444"/><circle cx="106.3" cy="191.6" r="0.6" fill="#111"/><circle cx="107.2" cy="190.9" r="1.0" fill="#666"/><circle cx="109.0" cy="192.1" r="0.8" fill="#666"/><circle cx="111.0" cy="191.9" r="1.1" fill="#2a2a2a"/><circle cx="112.9" cy="191.4" r="0.9" fill="#666"/><circle cx="116.1" cy="191.3" r="0.9" fill="#222"/><circle cx="116.9" cy="191.2" r="1.0" fill="#444"/><circle cx="119.8" cy="191.9" r="0.6" fill="#222"/><circle cx="123.5" cy="192.0" r="1.1" fill="#2a2a2a"/><circle cx="125.7" cy="190.8" r="1.1" fill="#181818"/><circle cx="128.0" cy="192.0" r="1.0" fill="#444"/><circle cx="130.3" cy="190.9" r="0.6" fill="#444"/><circle cx="130.9" cy="191.1" r="0.7" fill="#2a2a2a"/><circle cx="132.6" cy="191.2" r="0.7" fill="#666"/><circle cx="101.7" cy="193.8" r="1.0" fill="#111"/><circle cx="103.9" cy="193.7" r="0.6" fill="#666"/><circle cx="106.4" cy="194.0" r="1.0" fill="#666"/><circle cx="107.5" cy="192.8" r="1.0" fill="#111"/><circle cx="109.6" cy="194.1" r="1.1" fill="#181818"/><circle cx="112.1" cy="194.0" r="1.1" fill="#222"/><circle cx="117.6" cy="192.4" r="0.7" fill="#181818"/><circle cx="119.1" cy="192.5" r="1.0" fill="#444"/><circle cx="121.1" cy="193.1" r="0.9" fill="#222"/><circle cx="122.5" cy="192.8" r="0.8" fill="#222"/><circle cx="124.7" cy="193.7" r="1.0" fill="#444"/><circle cx="125.6" cy="193.5" r="0.9" fill="#444"/><circle cx="127.9" cy="193.5" r="0.9" fill="#181818"/><circle cx="129.5" cy="193.5" r="0.6" fill="#181818"/><circle cx="130.7" cy="192.8" r="0.8" fill="#222"/><circle cx="133.2" cy="192.4" r="1.1" fill="#2a2a2a"/><circle cx="135.1" cy="193.7" r="0.9" fill="#222"/><circle cx="101.7" cy="194.9" r="1.1" fill="#111"/><circle cx="103.7" cy="194.7" r="1.0" fill="#181818"/><circle cx="106.5" cy="195.6" r="0.8" fill="#666"/><circle cx="108.9" cy="195.7" r="0.9" fill="#181818"/><circle cx="109.4" cy="194.4" r="1.1" fill="#181818"/><circle cx="112.4" cy="194.8" r="0.9" fill="#222"/><circle cx="113.6" cy="194.9" r="1.1" fill="#444"/><circle cx="116.5" cy="194.7" r="1.1" fill="#222"/><circle cx="118.2" cy="195.3" r="0.8" fill="#222"/><circle cx="121.1" cy="194.6" r="0.8" fill="#222"/><circle cx="122.3" cy="194.9" r="0.9" fill="#181818"/><circle cx="123.7" cy="195.3" r="0.8" fill="#181818"/><circle cx="128.6" cy="194.6" r="1.0" fill="#111"/><circle cx="128.9" cy="195.1" r="1.1" fill="#111"/><circle cx="130.9" cy="195.9" r="0.7" fill="#181818"/><circle cx="132.9" cy="195.9" r="0.9" fill="#666"/><circle cx="134.6" cy="194.3" r="0.8" fill="#181818"/><circle cx="102.5" cy="196.1" r="0.9" fill="#111"/><circle cx="104.5" cy="196.6" r="1.0" fill="#444"/><circle cx="106.9" cy="197.7" r="1.1" fill="#111"/><circle cx="107.9" cy="196.9" r="1.1" fill="#666"/><circle cx="109.5" cy="196.2" r="0.9" fill="#111"/><circle cx="111.5" cy="197.4" r="0.7" fill="#181818"/><circle cx="115.4" cy="197.0" r="0.7" fill="#444"/><circle cx="119.0" cy="196.2" r="1.1" fill="#2a2a2a"/><circle cx="121.1" cy="196.9" r="0.8" fill="#181818"/><circle cx="123.0" cy="196.4" r="0.8" fill="#666"/><circle cx="124.8" cy="197.2" r="1.0" fill="#181818"/><circle cx="125.9" cy="196.2" r="0.8" fill="#111"/><circle cx="128.1" cy="197.4" r="0.7" fill="#666"/><circle cx="129.8" cy="197.4" r="1.0" fill="#181818"/><circle cx="131.8" cy="197.6" r="0.8" fill="#181818"/><circle cx="133.8" cy="197.4" r="0.8" fill="#111"/><circle cx="134.7" cy="197.1" r="0.6" fill="#666"/><circle cx="102.7" cy="198.7" r="0.9" fill="#111"/><circle cx="104.5" cy="199.5" r="1.1" fill="#222"/><circle cx="106.5" cy="198.6" r="0.7" fill="#2a2a2a"/><circle cx="108.7" cy="197.9" r="0.6" fill="#444"/><circle cx="113.3" cy="198.2" r="0.9" fill="#222"/><circle cx="114.9" cy="198.5" r="0.9" fill="#666"/><circle cx="118.6" cy="199.3" r="0.7" fill="#444"/><circle cx="120.1" cy="198.5" r="0.6" fill="#111"/><circle cx="123.2" cy="198.0" r="0.6" fill="#444"/><circle cx="126.2" cy="198.2" r="1.0" fill="#2a2a2a"/><circle cx="131.2" cy="198.7" r="0.7" fill="#222"/><circle cx="134.0" cy="199.4" r="0.9" fill="#666"/><circle cx="135.1" cy="199.2" r="0.8" fill="#2a2a2a"/><circle cx="103.1" cy="200.3" r="0.7" fill="#181818"/><circle cx="104.6" cy="201.1" r="0.9" fill="#222"/><circle cx="105.7" cy="200.8" r="0.6" fill="#666"/><circle cx="107.7" cy="199.9" r="1.1" fill="#444"/><circle cx="110.5" cy="200.0" r="1.0" fill="#181818"/><circle cx="111.7" cy="200.4" r="1.1" fill="#181818"/><circle cx="113.4" cy="200.5" r="1.1" fill="#111"/><circle cx="117.7" cy="200.1" r="1.0" fill="#222"/><circle cx="118.3" cy="201.3" r="1.0" fill="#111"/><circle cx="121.2" cy="200.7" r="0.8" fill="#666"/><circle cx="122.9" cy="200.8" r="0.9" fill="#2a2a2a"/><circle cx="124.9" cy="200.7" r="0.6" fill="#444"/><circle cx="126.4" cy="200.4" r="0.8" fill="#444"/><circle cx="127.8" cy="200.5" r="0.6" fill="#111"/><circle cx="128.9" cy="200.3" r="0.6" fill="#2a2a2a"/><circle cx="131.0" cy="200.1" r="1.1" fill="#222"/><circle cx="132.8" cy="201.3" r="0.7" fill="#2a2a2a"/><circle cx="134.6" cy="201.3" r="1.0" fill="#222"/><circle cx="103.2" cy="201.6" r="0.6" fill="#2a2a2a"/><circle cx="103.5" cy="201.7" r="0.7" fill="#222"/><circle cx="106.5" cy="203.1" r="1.0" fill="#181818"/><circle cx="108.0" cy="202.9" r="0.6" fill="#111"/><circle cx="110.7" cy="202.4" r="1.1" fill="#444"/><circle cx="112.0" cy="202.9" r="1.1" fill="#2a2a2a"/><circle cx="113.7" cy="203.0" r="1.1" fill="#111"/><circle cx="115.1" cy="203.0" r="0.9" fill="#181818"/><circle cx="116.6" cy="202.4" r="0.7" fill="#111"/><circle cx="119.7" cy="203.2" r="1.1" fill="#666"/><circle cx="120.4" cy="201.5" r="1.1" fill="#444"/><circle cx="122.8" cy="202.6" r="1.0" fill="#222"/><circle cx="124.9" cy="203.2" r="0.9" fill="#181818"/><circle cx="128.4" cy="201.4" r="0.9" fill="#666"/><circle cx="128.8" cy="202.4" r="1.0" fill="#111"/><circle cx="131.0" cy="202.6" r="0.6" fill="#444"/><circle cx="133.0" cy="202.7" r="0.9" fill="#444"/><circle cx="135.5" cy="201.9" r="0.9" fill="#111"/><circle cx="103.7" cy="204.2" r="0.8" fill="#2a2a2a"/><circle cx="106.7" cy="204.9" r="0.7" fill="#666"/><circle cx="107.2" cy="204.2" r="1.1" fill="#111"/><circle cx="109.2" cy="204.9" r="0.7" fill="#2a2a2a"/><circle cx="111.4" cy="204.6" r="0.6" fill="#444"/><circle cx="113.7" cy="204.3" r="0.6" fill="#444"/><circle cx="115.0" cy="204.3" r="0.6" fill="#666"/><circle cx="117.0" cy="203.9" r="0.8" fill="#444"/><circle cx="119.2" cy="204.5" r="0.8" fill="#181818"/><circle cx="120.0" cy="203.8" r="0.9" fill="#222"/><circle cx="122.7" cy="204.2" r="0.6" fill="#444"/><circle cx="124.1" cy="203.3" r="1.0" fill="#2a2a2a"/><circle cx="126.7" cy="204.5" r="1.0" fill="#444"/><circle cx="129.0" cy="204.9" r="1.1" fill="#181818"/><circle cx="132.0" cy="204.3" r="0.9" fill="#222"/><circle cx="133.9" cy="204.0" r="0.9" fill="#222"/><circle cx="104.5" cy="205.4" r="0.9" fill="#181818"/><circle cx="106.8" cy="206.3" r="1.1" fill="#666"/><circle cx="107.6" cy="205.4" r="0.6" fill="#444"/><circle cx="109.9" cy="206.4" r="1.0" fill="#181818"/><circle cx="112.2" cy="205.4" r="0.8" fill="#2a2a2a"/><circle cx="114.1" cy="206.4" r="0.7" fill="#444"/><circle cx="115.0" cy="206.1" r="0.8" fill="#181818"/><circle cx="117.1" cy="205.9" r="1.0" fill="#2a2a2a"/><circle cx="118.5" cy="206.7" r="0.8" fill="#111"/><circle cx="121.1" cy="205.9" r="0.8" fill="#181818"/><circle cx="124.2" cy="206.3" r="0.8" fill="#222"/><circle cx="126.5" cy="206.2" r="1.0" fill="#222"/><circle cx="127.8" cy="205.7" r="0.9" fill="#111"/><circle cx="130.3" cy="206.4" r="0.7" fill="#2a2a2a"/><circle cx="131.8" cy="206.5" r="0.6" fill="#111"/><circle cx="133.9" cy="205.5" r="0.7" fill="#2a2a2a"/><circle cx="106.6" cy="207.3" r="0.6" fill="#666"/><circle cx="107.3" cy="208.0" r="1.0" fill="#181818"/><circle cx="110.4" cy="207.1" r="1.0" fill="#666"/><circle cx="111.0" cy="207.4" r="0.7" fill="#444"/><circle cx="114.2" cy="207.4" r="0.9" fill="#444"/><circle cx="116.5" cy="207.4" r="0.8" fill="#666"/><circle cx="119.0" cy="208.5" r="0.7" fill="#181818"/><circle cx="119.9" cy="206.8" r="0.7" fill="#111"/><circle cx="124.1" cy="207.3" r="0.9" fill="#181818"/><circle cx="125.7" cy="206.8" r="1.1" fill="#111"/><circle cx="127.5" cy="208.5" r="0.6" fill="#444"/><circle cx="129.3" cy="207.6" r="0.8" fill="#111"/><circle cx="131.8" cy="207.3" r="1.0" fill="#666"/><circle cx="107.7" cy="209.1" r="1.1" fill="#444"/><circle cx="109.7" cy="209.2" r="0.9" fill="#111"/><circle cx="111.7" cy="209.3" r="1.0" fill="#111"/><circle cx="112.8" cy="208.8" r="1.1" fill="#2a2a2a"/><circle cx="115.4" cy="208.6" r="1.1" fill="#666"/><circle cx="117.3" cy="209.6" r="0.7" fill="#181818"/><circle cx="118.0" cy="209.7" r="1.1" fill="#444"/><circle cx="121.1" cy="208.8" r="1.1" fill="#181818"/><circle cx="123.3" cy="209.1" r="1.1" fill="#111"/><circle cx="124.0" cy="210.4" r="0.8" fill="#181818"/><circle cx="126.0" cy="208.6" r="0.7" fill="#111"/><circle cx="127.1" cy="209.3" r="0.8" fill="#444"/><circle cx="129.2" cy="209.6" r="0.8" fill="#181818"/><circle cx="109.9" cy="210.9" r="0.9" fill="#2a2a2a"/><circle cx="112.0" cy="211.4" r="1.0" fill="#181818"/><circle cx="112.7" cy="211.4" r="0.7" fill="#181818"/><circle cx="116.2" cy="210.5" r="0.6" fill="#111"/><circle cx="119.3" cy="210.8" r="1.0" fill="#181818"/><circle cx="121.0" cy="211.4" r="0.7" fill="#181818"/><circle cx="121.8" cy="211.6" r="1.0" fill="#222"/><circle cx="124.5" cy="210.8" r="0.7" fill="#2a2a2a"/><circle cx="125.2" cy="211.2" r="0.9" fill="#2a2a2a"/><circle cx="128.4" cy="210.4" r="1.0" fill="#666"/><circle cx="114.0" cy="212.9" r="0.6" fill="#111"/><circle cx="114.6" cy="212.3" r="1.0" fill="#2a2a2a"/><circle cx="117.3" cy="212.4" r="0.7" fill="#666"/><circle cx="118.0" cy="213.5" r="0.7" fill="#181818"/><circle cx="120.7" cy="213.4" r="1.1" fill="#2a2a2a"/><circle cx="121.8" cy="213.8" r="1.0" fill="#181818"/></g>
<circle cx="118.6" cy="196.7" r="16.55" fill="none" stroke="#151515" stroke-opacity="0.85" stroke-width="1.7"/>
</g>
<g transform="translate(37.9 235.6) scale(1 0.9719) translate(-37.9 -235.6)">
<clipPath id="cp10"><circle cx="37.9" cy="235.6" r="16.900000000000002"/></clipPath>
<circle cx="37.9" cy="235.6" r="18.400000000000002" fill="none" stroke="#efefef" stroke-width="1.2"/>
<circle cx="37.9" cy="235.6" r="17.8" fill="#bbbbbb" stroke="#777" stroke-width="0.7"/>
<g clip-path="url(#cp10)"><circle cx="37.9" cy="218.2" r="0.7" fill="#111"/><circle cx="30.8" cy="219.5" r="0.9" fill="#181818"/><circle cx="32.7" cy="219.5" r="0.6" fill="#2a2a2a"/><circle cx="34.1" cy="219.9" r="0.6" fill="#666"/><circle cx="37.1" cy="219.5" r="0.8" fill="#2a2a2a"/><circle cx="38.4" cy="218.7" r="0.7" fill="#111"/><circle cx="39.2" cy="219.5" r="1.0" fill="#181818"/><circle cx="41.9" cy="220.3" r="0.5" fill="#666"/><circle cx="46.0" cy="219.8" r="0.9" fill="#111"/><circle cx="28.1" cy="221.7" r="0.7" fill="#444"/><circle cx="29.2" cy="222.0" r="1.0" fill="#181818"/><circle cx="30.3" cy="221.3" r="0.8" fill="#111"/><circle cx="32.3" cy="221.3" r="0.7" fill="#222"/><circle cx="33.9" cy="222.0" r="0.9" fill="#666"/><circle cx="36.6" cy="221.5" r="0.5" fill="#222"/><circle cx="37.4" cy="221.3" r="0.9" fill="#111"/><circle cx="41.5" cy="222.3" r="0.9" fill="#444"/><circle cx="42.8" cy="221.6" r="0.5" fill="#2a2a2a"/><circle cx="44.5" cy="221.7" r="0.6" fill="#666"/><circle cx="47.2" cy="220.6" r="0.6" fill="#111"/><circle cx="25.1" cy="223.3" r="0.6" fill="#181818"/><circle cx="27.5" cy="223.2" r="0.7" fill="#222"/><circle cx="29.9" cy="223.1" r="0.5" fill="#181818"/><circle cx="31.2" cy="223.3" r="0.7" fill="#666"/><circle cx="32.0" cy="223.3" r="0.6" fill="#444"/><circle cx="34.5" cy="222.8" r="0.9" fill="#444"/><circle cx="36.6" cy="224.0" r="1.0" fill="#111"/><circle cx="37.7" cy="223.2" r="0.7" fill="#2a2a2a"/><circle cx="39.8" cy="222.3" r="0.8" fill="#111"/><circle cx="41.3" cy="223.7" r="0.9" fill="#222"/><circle cx="43.0" cy="222.6" r="1.1" fill="#111"/><circle cx="44.6" cy="222.4" r="0.6" fill="#2a2a2a"/><circle cx="46.3" cy="222.4" r="0.9" fill="#222"/><circle cx="48.7" cy="222.9" r="0.6" fill="#444"/><circle cx="49.9" cy="223.0" r="0.9" fill="#2a2a2a"/><circle cx="24.2" cy="224.8" r="0.8" fill="#111"/><circle cx="24.6" cy="225.4" r="0.9" fill="#181818"/><circle cx="26.7" cy="225.2" r="0.8" fill="#181818"/><circle cx="28.7" cy="224.4" r="1.0" fill="#2a2a2a"/><circle cx="30.4" cy="224.2" r="0.8" fill="#444"/><circle cx="32.1" cy="225.0" r="0.9" fill="#181818"/><circle cx="35.2" cy="225.6" r="0.7" fill="#222"/><circle cx="36.9" cy="224.9" r="1.1" fill="#444"/><circle cx="37.3" cy="225.2" r="0.5" fill="#444"/><circle cx="40.1" cy="225.3" r="0.8" fill="#666"/><circle cx="41.8" cy="225.7" r="1.0" fill="#444"/><circle cx="45.4" cy="225.1" r="0.5" fill="#2a2a2a"/><circle cx="47.3" cy="224.5" r="0.9" fill="#222"/><circle cx="49.2" cy="225.0" r="0.6" fill="#444"/><circle cx="51.5" cy="225.0" r="0.8" fill="#111"/><circle cx="22.4" cy="227.4" r="0.8" fill="#222"/><circle cx="24.6" cy="227.6" r="0.9" fill="#181818"/><circle cx="25.6" cy="226.3" r="0.6" fill="#181818"/><circle cx="27.6" cy="226.0" r="0.5" fill="#444"/><circle cx="29.5" cy="227.6" r="0.8" fill="#2a2a2a"/><circle cx="30.8" cy="227.3" r="1.0" fill="#444"/><circle cx="32.4" cy="226.6" r="0.6" fill="#222"/><circle cx="35.3" cy="226.4" r="0.7" fill="#222"/><circle cx="36.0" cy="226.9" r="0.8" fill="#222"/><circle cx="38.3" cy="227.6" r="0.8" fill="#111"/><circle cx="39.6" cy="226.0" r="0.8" fill="#181818"/><circle cx="44.3" cy="227.4" r="1.0" fill="#666"/><circle cx="49.5" cy="225.9" r="0.9" fill="#2a2a2a"/><circle cx="50.8" cy="227.6" r="0.7" fill="#444"/><circle cx="52.2" cy="226.6" r="1.1" fill="#444"/><circle cx="22.9" cy="228.3" r="0.9" fill="#222"/><circle cx="25.1" cy="228.0" r="0.9" fill="#222"/><circle cx="27.8" cy="229.1" r="1.0" fill="#2a2a2a"/><circle cx="28.5" cy="228.5" r="0.7" fill="#444"/><circle cx="31.5" cy="228.4" r="1.0" fill="#666"/><circle cx="32.2" cy="228.5" r="0.6" fill="#111"/><circle cx="38.3" cy="229.1" r="0.6" fill="#222"/><circle cx="40.4" cy="228.0" r="0.6" fill="#2a2a2a"/><circle cx="42.5" cy="228.7" r="1.0" fill="#666"/><circle cx="42.9" cy="228.5" r="1.0" fill="#111"/><circle cx="49.4" cy="229.5" r="0.5" fill="#666"/><circle cx="51.4" cy="229.5" r="0.6" fill="#222"/><circle cx="20.9" cy="231.1" r="0.9" fill="#2a2a2a"/><circle cx="22.0" cy="229.8" r="0.8" fill="#111"/><circle cx="25.7" cy="230.8" r="0.9" fill="#2a2a2a"/><circle cx="26.8" cy="231.1" r="0.9" fill="#222"/><circle cx="28.8" cy="229.5" r="0.8" fill="#222"/><circle cx="31.5" cy="230.3" r="1.0" fill="#222"/><circle cx="32.0" cy="231.2" r="1.0" fill="#444"/><circle cx="34.6" cy="230.1" r="0.6" fill="#666"/><circle cx="35.6" cy="230.4" r="1.0" fill="#181818"/><circle cx="38.2" cy="231.2" r="0.7" fill="#111"/><circle cx="40.9" cy="230.7" r="0.8" fill="#2a2a2a"/><circle cx="43.3" cy="231.0" r="0.7" fill="#666"/><circle cx="46.0" cy="231.1" r="0.7" fill="#111"/><circle cx="47.7" cy="230.8" r="0.7" fill="#666"/><circle cx="48.4" cy="231.3" r="0.6" fill="#2a2a2a"/><circle cx="51.8" cy="230.4" r="0.5" fill="#222"/><circle cx="53.6" cy="231.0" r="0.9" fill="#222"/><circle cx="22.5" cy="232.6" r="0.6" fill="#111"/><circle cx="23.2" cy="232.4" r="0.7" fill="#2a2a2a"/><circle cx="26.3" cy="232.5" r="0.7" fill="#111"/><circle cx="27.1" cy="233.0" r="0.6" fill="#181818"/><circle cx="29.3" cy="232.4" r="0.8" fill="#444"/><circle cx="30.7" cy="232.0" r="0.6" fill="#222"/><circle cx="32.1" cy="232.9" r="0.7" fill="#2a2a2a"/><circle cx="33.8" cy="231.5" r="0.7" fill="#2a2a2a"/><circle cx="37.8" cy="232.0" r="0.8" fill="#181818"/><circle cx="40.7" cy="232.4" r="0.6" fill="#181818"/><circle cx="41.4" cy="231.9" r="0.7" fill="#444"/><circle cx="44.6" cy="232.8" r="1.0" fill="#222"/><circle cx="49.5" cy="231.7" r="0.9" fill="#444"/><circle cx="50.2" cy="232.4" r="0.8" fill="#666"/><circle cx="52.8" cy="232.9" r="1.0" fill="#222"/><circle cx="53.9" cy="231.7" r="0.6" fill="#181818"/><circle cx="21.8" cy="234.6" r="1.0" fill="#181818"/><circle cx="23.8" cy="233.6" r="1.0" fill="#666"/><circle cx="25.7" cy="234.7" r="0.7" fill="#222"/><circle cx="27.4" cy="234.6" r="0.7" fill="#444"/><circle cx="28.4" cy="234.7" r="0.8" fill="#2a2a2a"/><circle cx="31.0" cy="233.8" r="0.6" fill="#181818"/><circle cx="32.1" cy="233.8" r="0.6" fill="#444"/><circle cx="33.7" cy="234.4" r="0.8" fill="#2a2a2a"/><circle cx="37.5" cy="233.4" r="0.9" fill="#2a2a2a"/><circle cx="42.2" cy="233.9" r="1.0" fill="#181818"/><circle cx="42.8" cy="233.9" r="0.9" fill="#2a2a2a"/><circle cx="44.9" cy="234.3" r="0.8" fill="#444"/><circle cx="46.8" cy="234.5" r="0.7" fill="#444"/><circle cx="49.5" cy="234.7" r="0.8" fill="#444"/><circle cx="51.5" cy="233.8" r="0.9" fill="#181818"/><circle cx="51.9" cy="233.6" r="0.6" fill="#222"/><circle cx="53.7" cy="234.3" r="0.7" fill="#2a2a2a"/><circle cx="21.9" cy="236.3" r="1.1" fill="#2a2a2a"/><circle cx="23.2" cy="235.3" r="0.9" fill="#444"/><circle cx="25.7" cy="236.1" r="0.8" fill="#222"/><circle cx="27.8" cy="235.4" r="0.9" fill="#111"/><circle cx="30.8" cy="236.1" r="0.6" fill="#2a2a2a"/><circle cx="32.3" cy="235.2" r="0.7" fill="#2a2a2a"/><circle cx="36.5" cy="236.1" r="0.6" fill="#222"/><circle cx="37.6" cy="235.7" r="1.0" fill="#666"/><circle cx="39.8" cy="235.6" r="1.0" fill="#181818"/><circle cx="42.1" cy="235.0" r="1.0" fill="#222"/><circle cx="43.1" cy="236.2" r="0.7" fill="#444"/><circle cx="45.8" cy="235.3" r="0.5" fill="#222"/><circle cx="47.5" cy="236.1" r="0.6" fill="#666"/><circle cx="49.5" cy="236.3" r="0.8" fill="#2a2a2a"/><circle cx="50.8" cy="235.3" r="0.9" fill="#2a2a2a"/><circle cx="54.4" cy="235.1" r="0.9" fill="#444"/><circle cx="21.8" cy="236.9" r="1.0" fill="#111"/><circle cx="23.7" cy="236.8" r="0.7" fill="#222"/><circle cx="25.5" cy="236.7" r="0.7" fill="#2a2a2a"/><circle cx="27.2" cy="238.2" r="0.8" fill="#444"/><circle cx="28.8" cy="237.9" r="1.0" fill="#666"/><circle cx="31.7" cy="236.9" r="0.9" fill="#111"/><circle cx="32.5" cy="238.4" r="1.0" fill="#111"/><circle cx="35.3" cy="237.2" r="1.0" fill="#181818"/><circle cx="35.6" cy="237.8" r="0.7" fill="#444"/><circle cx="38.7" cy="236.8" r="0.5" fill="#2a2a2a"/><circle cx="40.7" cy="237.5" r="1.0" fill="#222"/><circle cx="42.1" cy="236.8" r="0.5" fill="#444"/><circle cx="43.8" cy="237.8" r="0.6" fill="#666"/><circle cx="45.6" cy="238.5" r="0.9" fill="#666"/><circle cx="47.6" cy="237.8" r="0.6" fill="#111"/><circle cx="48.5" cy="238.3" r="0.9" fill="#181818"/><circle cx="51.1" cy="237.7" r="0.7" fill="#666"/><circle cx="51.9" cy="238.3" r="0.8" fill="#181818"/><circle cx="53.7" cy="238.2" r="1.1" fill="#222"/><circle cx="20.5" cy="238.8" r="1.0" fill="#666"/><circle cx="21.6" cy="239.2" r="1.0" fill="#666"/><circle cx="23.8" cy="240.1" r="0.9" fill="#222"/><circle cx="25.3" cy="239.5" r="0.9" fill="#111"/><circle cx="28.2" cy="240.3" r="0.6" fill="#181818"/><circle cx="31.6" cy="239.5" r="1.0" fill="#111"/><circle cx="31.8" cy="239.5" r="0.9" fill="#2a2a2a"/><circle cx="37.2" cy="239.0" r="0.7" fill="#222"/><circle cx="38.6" cy="239.9" r="1.0" fill="#666"/><circle cx="40.2" cy="239.0" r="1.1" fill="#666"/><circle cx="41.3" cy="239.3" r="0.8" fill="#444"/><circle cx="43.2" cy="240.3" r="0.7" fill="#444"/><circle cx="45.7" cy="239.2" r="1.1" fill="#444"/><circle cx="46.2" cy="239.5" r="1.0" fill="#111"/><circle cx="48.8" cy="239.4" r="0.9" fill="#666"/><circle cx="50.4" cy="239.0" r="0.6" fill="#444"/><circle cx="52.2" cy="239.3" r="1.1" fill="#2a2a2a"/><circle cx="54.9" cy="239.1" r="1.0" fill="#222"/><circle cx="22.6" cy="240.8" r="1.0" fill="#181818"/><circle cx="24.6" cy="241.0" r="0.9" fill="#2a2a2a"/><circle cx="24.9" cy="241.6" r="1.0" fill="#2a2a2a"/><circle cx="27.9" cy="241.8" r="0.7" fill="#2a2a2a"/><circle cx="29.4" cy="241.2" r="1.0" fill="#444"/><circle cx="31.4" cy="241.2" r="0.5" fill="#2a2a2a"/><circle cx="33.0" cy="240.8" r="1.1" fill="#444"/><circle cx="34.8" cy="241.3" r="0.5" fill="#2a2a2a"/><circle cx="36.8" cy="241.9" r="0.6" fill="#181818"/><circle cx="39.9" cy="241.8" r="1.1" fill="#666"/><circle cx="42.3" cy="240.7" r="0.8" fill="#666"/><circle cx="43.7" cy="241.3" r="0.8" fill="#111"/><circle cx="44.4" cy="241.5" r="0.8" fill="#444"/><circle cx="47.9" cy="240.8" r="0.6" fill="#666"/><circle cx="48.4" cy="241.6" r="0.9" fill="#2a2a2a"/><circle cx="51.1" cy="240.6" r="0.8" fill="#2a2a2a"/><circle cx="52.8" cy="241.9" r="0.9" fill="#181818"/><circle cx="54.1" cy="241.8" r="1.1" fill="#666"/><circle cx="24.4" cy="242.2" r="0.9" fill="#666"/><circle cx="25.0" cy="242.9" r="0.9" fill="#2a2a2a"/><circle cx="29.5" cy="243.0" r="0.6" fill="#2a2a2a"/><circle cx="31.0" cy="243.1" r="1.1" fill="#111"/><circle cx="35.0" cy="242.7" r="0.8" fill="#222"/><circle cx="36.8" cy="242.9" r="0.8" fill="#444"/><circle cx="37.6" cy="243.8" r="1.0" fill="#666"/><circle cx="39.6" cy="242.3" r="0.8" fill="#222"/><circle cx="41.0" cy="242.6" r="0.9" fill="#111"/><circle cx="45.8" cy="243.3" r="0.7" fill="#222"/><circle cx="46.7" cy="242.5" r="0.6" fill="#444"/><circle cx="48.0" cy="242.1" r="1.0" fill="#2a2a2a"/><circle cx="51.2" cy="242.8" r="1.1" fill="#181818"/><circle cx="52.6" cy="243.4" r="1.0" fill="#222"/><circle cx="53.9" cy="243.2" r="0.6" fill="#181818"/><circle cx="23.8" cy="244.9" r="0.9" fill="#444"/><circle cx="25.8" cy="244.6" r="0.9" fill="#181818"/><circle cx="28.1" cy="244.9" r="0.8" fill="#2a2a2a"/><circle cx="29.1" cy="245.3" r="0.9" fill="#666"/><circle cx="30.7" cy="244.7" r="0.9" fill="#2a2a2a"/><circle cx="33.0" cy="244.4" r="1.0" fill="#666"/><circle cx="34.1" cy="244.0" r="1.1" fill="#444"/><circle cx="35.5" cy="245.4" r="0.6" fill="#222"/><circle cx="37.6" cy="245.3" r="0.5" fill="#666"/><circle cx="39.7" cy="244.5" r="0.7" fill="#2a2a2a"/><circle cx="40.9" cy="245.5" r="1.0" fill="#111"/><circle cx="42.7" cy="244.9" r="0.6" fill="#444"/><circle cx="45.6" cy="244.0" r="0.7" fill="#666"/><circle cx="47.0" cy="245.1" r="0.8" fill="#222"/><circle cx="48.1" cy="244.8" r="0.5" fill="#111"/><circle cx="50.4" cy="244.7" r="0.6" fill="#111"/><circle cx="52.4" cy="245.3" r="1.0" fill="#111"/><circle cx="24.3" cy="246.6" r="0.6" fill="#444"/><circle cx="25.1" cy="246.0" r="0.9" fill="#181818"/><circle cx="27.3" cy="245.9" r="1.1" fill="#666"/><circle cx="28.5" cy="246.0" r="0.8" fill="#444"/><circle cx="30.2" cy="247.5" r="1.0" fill="#111"/><circle cx="32.8" cy="246.3" r="0.6" fill="#666"/><circle cx="33.9" cy="245.8" r="0.6" fill="#444"/><circle cx="37.2" cy="247.0" r="0.9" fill="#181818"/><circle cx="38.8" cy="246.6" r="0.6" fill="#2a2a2a"/><circle cx="40.6" cy="246.2" r="0.7" fill="#2a2a2a"/><circle cx="41.5" cy="246.9" r="1.0" fill="#444"/><circle cx="43.6" cy="246.9" r="0.6" fill="#111"/><circle cx="47.5" cy="247.5" r="0.6" fill="#444"/><circle cx="48.9" cy="247.0" r="0.5" fill="#2a2a2a"/><circle cx="50.1" cy="245.9" r="0.6" fill="#111"/><circle cx="26.9" cy="249.1" r="1.1" fill="#181818"/><circle cx="29.2" cy="247.9" r="0.6" fill="#111"/><circle cx="30.2" cy="248.7" r="1.1" fill="#222"/><circle cx="32.8" cy="247.9" r="0.8" fill="#181818"/><circle cx="34.7" cy="249.3" r="0.9" fill="#181818"/><circle cx="37.0" cy="247.8" r="0.7" fill="#444"/><circle cx="38.7" cy="248.8" r="0.9" fill="#111"/><circle cx="39.7" cy="248.6" r="1.0" fill="#181818"/><circle cx="42.6" cy="248.9" r="0.8" fill="#2a2a2a"/><circle cx="43.3" cy="249.0" r="1.0" fill="#181818"/><circle cx="45.9" cy="248.3" r="0.9" fill="#111"/><circle cx="46.6" cy="249.1" r="1.0" fill="#666"/><circle cx="48.8" cy="248.0" r="0.9" fill="#222"/><circle cx="50.3" cy="247.6" r="1.0" fill="#2a2a2a"/><circle cx="29.6" cy="250.4" r="0.6" fill="#222"/><circle cx="30.2" cy="250.8" r="0.6" fill="#222"/><circle cx="31.9" cy="249.9" r="1.1" fill="#111"/><circle cx="35.3" cy="250.9" r="0.8" fill="#2a2a2a"/><circle cx="36.7" cy="249.4" r="1.0" fill="#222"/><circle cx="38.3" cy="250.3" r="0.6" fill="#444"/><circle cx="40.6" cy="251.0" r="0.5" fill="#111"/><circle cx="41.8" cy="250.3" r="0.6" fill="#444"/><circle cx="43.8" cy="249.4" r="0.7" fill="#444"/><circle cx="44.8" cy="250.5" r="0.9" fill="#2a2a2a"/><circle cx="46.5" cy="250.4" r="0.7" fill="#2a2a2a"/><circle cx="32.6" cy="251.9" r="0.7" fill="#444"/><circle cx="35.0" cy="252.5" r="0.6" fill="#2a2a2a"/><circle cx="37.0" cy="252.3" r="0.9" fill="#666"/><circle cx="38.9" cy="251.4" r="1.0" fill="#444"/><circle cx="39.3" cy="252.1" r="0.7" fill="#222"/><circle cx="41.0" cy="251.9" r="0.5" fill="#111"/><circle cx="43.7" cy="252.3" r="0.8" fill="#111"/><circle cx="45.7" cy="251.4" r="0.8" fill="#666"/></g>
<circle cx="37.9" cy="235.6" r="16.55" fill="none" stroke="#151515" stroke-opacity="0.85" stroke-width="1.7"/>
</g>
<g transform="translate(78.5 235.6) scale(1 0.9719) translate(-78.5 -235.6)">
<circle cx="78.5" cy="235.6" r="17.8" fill="#eaeaea" stroke="#8c8c8c" stroke-width="0.8"/>
<circle cx="78.5" cy="235.6" r="16.6" fill="none" stroke="#f2f2f2" stroke-width="1.1"/>
<circle cx="78.5" cy="235.6" r="15.8" fill="none" stroke="#c4c4c4" stroke-width="0.5"/>
</g>
<g transform="translate(118.6 235.6) scale(1 0.9719) translate(-118.6 -235.6)">
<circle cx="118.6" cy="235.6" r="17.8" fill="#eaeaea" stroke="#8c8c8c" stroke-width="0.8"/>
<circle cx="118.6" cy="235.6" r="16.6" fill="none" stroke="#f2f2f2" stroke-width="1.1"/>
<circle cx="118.6" cy="235.6" r="15.8" fill="none" stroke="#c4c4c4" stroke-width="0.5"/>
</g>
<line x1="19.3" y1="258.3" x2="39.1" y2="258.3" stroke="#555" stroke-width="1"/>
<text x="21.50" y="263.70" font-size="5.4" style="font-family:&quot;Liberation Serif&quot;, serif" fill="#444">1.7 cm</text>
<text transform="translate(12.6 197.7) rotate(-90)" font-size="8.8" text-anchor="middle" fill="#111">- Dox</text>
<text transform="translate(12.6 236.1) rotate(-90)" font-size="8.8" text-anchor="middle" fill="#111">+ Dox</text>
<text x="193.00" y="21.90" font-size="8.9" font-weight="bold" text-anchor="start" fill="#111"  stroke="#111" stroke-width="0.18">MELHO (parental) (S)</text>
<line x1="182.30" y1="70.83" x2="182.30" y2="67.67" stroke="#666666" stroke-width="0.8"/>
<line x1="181.00" y1="67.67" x2="183.60" y2="67.67" stroke="#666666" stroke-width="0.8"/>
<rect x="180.00" y="70.83" width="4.6" height="52.67" fill="#666666"/>
<circle cx="182.02" cy="73.47" r="1.25" fill="#000"/>
<circle cx="181.74" cy="70.83" r="1.25" fill="#000"/>
<circle cx="182.54" cy="68.20" r="1.25" fill="#000"/>
<line x1="189.00" y1="65.57" x2="189.00" y2="56.09" stroke="#a6a6aa" stroke-width="0.8"/>
<line x1="187.70" y1="56.09" x2="190.30" y2="56.09" stroke="#a6a6aa" stroke-width="0.8"/>
<rect x="186.70" y="65.57" width="4.6" height="57.93" fill="#a6a6aa"/>
<circle cx="188.32" cy="69.25" r="1.25" fill="#000"/>
<circle cx="189.06" cy="67.67" r="1.25" fill="#000"/>
<circle cx="188.79" cy="56.09" r="1.25" fill="#000"/>
<line x1="195.70" y1="70.83" x2="195.70" y2="67.67" stroke="#0b5e0b" stroke-width="0.8"/>
<line x1="194.40" y1="67.67" x2="197.00" y2="67.67" stroke="#0b5e0b" stroke-width="0.8"/>
<rect x="193.40" y="70.83" width="4.6" height="52.67" fill="#0b5e0b"/>
<circle cx="194.99" cy="73.47" r="1.25" fill="#000"/>
<circle cx="195.71" cy="70.83" r="1.25" fill="#000"/>
<circle cx="194.96" cy="67.67" r="1.25" fill="#000"/>
<line x1="202.40" y1="102.43" x2="202.40" y2="98.22" stroke="#1ec680" stroke-width="0.8"/>
<line x1="201.10" y1="98.22" x2="203.70" y2="98.22" stroke="#1ec680" stroke-width="0.8"/>
<rect x="200.10" y="102.43" width="4.6" height="21.07" fill="#1ec680"/>
<circle cx="202.29" cy="106.65" r="1.25" fill="#000"/>
<circle cx="201.71" cy="102.43" r="1.25" fill="#000"/>
<circle cx="201.75" cy="98.22" r="1.25" fill="#000"/>
<text x="192.35" y="133.20" font-size="6.6" font-weight="bold" text-anchor="middle" fill="#111"  stroke="#111" stroke-width="0.18">IRF4</text>
<line x1="212.60" y1="71.36" x2="212.60" y2="67.15" stroke="#666666" stroke-width="0.8"/>
<line x1="211.30" y1="67.15" x2="213.90" y2="67.15" stroke="#666666" stroke-width="0.8"/>
<rect x="210.30" y="71.36" width="4.6" height="52.14" fill="#666666"/>
<circle cx="212.48" cy="73.47" r="1.25" fill="#000"/>
<circle cx="213.12" cy="70.83" r="1.25" fill="#000"/>
<circle cx="212.00" cy="67.15" r="1.25" fill="#000"/>
<rect x="217.00" y="77.68" width="4.6" height="45.82" fill="#a6a6aa"/>
<circle cx="218.86" cy="79.26" r="1.25" fill="#000"/>
<circle cx="219.50" cy="78.21" r="1.25" fill="#000"/>
<circle cx="220.02" cy="77.15" r="1.25" fill="#000"/>
<line x1="226.00" y1="70.83" x2="226.00" y2="67.15" stroke="#0b5e0b" stroke-width="0.8"/>
<line x1="224.70" y1="67.15" x2="227.30" y2="67.15" stroke="#0b5e0b" stroke-width="0.8"/>
<rect x="223.70" y="70.83" width="4.6" height="52.67" fill="#0b5e0b"/>
<circle cx="226.12" cy="75.05" r="1.25" fill="#000"/>
<circle cx="225.83" cy="70.83" r="1.25" fill="#000"/>
<circle cx="226.76" cy="67.67" r="1.25" fill="#000"/>
<rect x="230.40" y="116.13" width="4.6" height="7.37" fill="#1ec680"/>
<circle cx="231.97" cy="116.65" r="1.25" fill="#000"/>
<circle cx="233.27" cy="116.13" r="1.25" fill="#000"/>
<circle cx="232.36" cy="116.13" r="1.25" fill="#000"/>
<text x="222.65" y="133.20" font-size="6.6" font-weight="bold" text-anchor="middle" fill="#111"  stroke="#111" stroke-width="0.18">BIRC7</text>
<line x1="242.90" y1="70.83" x2="242.90" y2="67.67" stroke="#666666" stroke-width="0.8"/>
<line x1="241.60" y1="67.67" x2="244.20" y2="67.67" stroke="#666666" stroke-width="0.8"/>
<rect x="240.60" y="70.83" width="4.6" height="52.67" fill="#666666"/>
<circle cx="242.33" cy="73.47" r="1.25" fill="#000"/>
<circle cx="242.29" cy="70.83" r="1.25" fill="#000"/>
<circle cx="242.59" cy="67.67" r="1.25" fill="#000"/>
<line x1="249.60" y1="65.57" x2="249.60" y2="56.09" stroke="#a6a6aa" stroke-width="0.8"/>
<line x1="248.30" y1="56.09" x2="250.90" y2="56.09" stroke="#a6a6aa" stroke-width="0.8"/>
<rect x="247.30" y="65.57" width="4.6" height="57.93" fill="#a6a6aa"/>
<circle cx="250.11" cy="69.25" r="1.25" fill="#000"/>
<circle cx="249.09" cy="67.67" r="1.25" fill="#000"/>
<circle cx="249.73" cy="56.09" r="1.25" fill="#000"/>
<line x1="256.30" y1="70.83" x2="256.30" y2="67.67" stroke="#0b5e0b" stroke-width="0.8"/>
<line x1="255.00" y1="67.67" x2="257.60" y2="67.67" stroke="#0b5e0b" stroke-width="0.8"/>
<rect x="254.00" y="70.83" width="4.6" height="52.67" fill="#0b5e0b"/>
<circle cx="256.52" cy="73.47" r="1.25" fill="#000"/>
<circle cx="256.10" cy="70.83" r="1.25" fill="#000"/>
<circle cx="256.38" cy="67.67" r="1.25" fill="#000"/>
<line x1="263.00" y1="102.43" x2="263.00" y2="98.22" stroke="#1ec680" stroke-width="0.8"/>
<line x1="261.70" y1="98.22" x2="264.30" y2="98.22" stroke="#1ec680" stroke-width="0.8"/>
<rect x="260.70" y="102.43" width="4.6" height="21.07" fill="#1ec680"/>
<circle cx="262.30" cy="106.65" r="1.25" fill="#000"/>
<circle cx="262.30" cy="102.43" r="1.25" fill="#000"/>
<circle cx="262.53" cy="98.75" r="1.25" fill="#000"/>
<text x="252.95" y="133.20" font-size="6.6" font-weight="bold" text-anchor="middle" fill="#111"  stroke="#111" stroke-width="0.18">CDK2</text>
<line x1="273.20" y1="70.83" x2="273.20" y2="66.62" stroke="#666666" stroke-width="0.8"/>
<line x1="271.90" y1="66.62" x2="274.50" y2="66.62" stroke="#666666" stroke-width="0.8"/>
<rect x="270.90" y="70.83" width="4.6" height="52.67" fill="#666666"/>
<circle cx="273.49" cy="76.10" r="1.25" fill="#000"/>
<circle cx="273.08" cy="70.83" r="1.25" fill="#000"/>
<circle cx="272.90" cy="66.62" r="1.25" fill="#000"/>
<rect x="277.60" y="56.09" width="4.6" height="67.41" fill="#a6a6aa"/>
<circle cx="280.04" cy="57.14" r="1.25" fill="#000"/>
<circle cx="279.83" cy="56.09" r="1.25" fill="#000"/>
<circle cx="279.58" cy="54.51" r="1.25" fill="#000"/>
<rect x="284.30" y="69.78" width="4.6" height="53.72" fill="#0b5e0b"/>
<circle cx="287.07" cy="71.89" r="1.25" fill="#000"/>
<circle cx="286.92" cy="70.83" r="1.25" fill="#000"/>
<circle cx="286.19" cy="69.78" r="1.25" fill="#000"/>
<line x1="293.30" y1="95.06" x2="293.30" y2="90.85" stroke="#1ec680" stroke-width="0.8"/>
<line x1="292.00" y1="90.85" x2="294.60" y2="90.85" stroke="#1ec680" stroke-width="0.8"/>
<rect x="291.00" y="95.06" width="4.6" height="28.44" fill="#1ec680"/>
<circle cx="293.42" cy="97.17" r="1.25" fill="#000"/>
<circle cx="293.34" cy="95.06" r="1.25" fill="#000"/>
<circle cx="293.90" cy="90.85" r="1.25" fill="#000"/>
<text x="283.25" y="133.20" font-size="6.6" font-weight="bold" text-anchor="middle" fill="#111"  stroke="#111" stroke-width="0.18">MITF-M</text>
<line x1="178.5" y1="44.00" x2="178.5" y2="123.50" stroke="#111" stroke-width="1"/>
<line x1="178.0" y1="123.50" x2="294.5" y2="123.50" stroke="#111" stroke-width="1"/>
<line x1="175.3" y1="123.50" x2="178.5" y2="123.50" stroke="#000" stroke-width="0.8"/>
<text x="174.70" y="125.40" font-size="5.2" font-weight="normal" text-anchor="end" fill="#111"  stroke="#111" stroke-width="0.18">0</text>
<line x1="175.3" y1="97.17" x2="178.5" y2="97.17" stroke="#000" stroke-width="0.8"/>
<text x="174.70" y="99.07" font-size="5.2" font-weight="normal" text-anchor="end" fill="#111"  stroke="#111" stroke-width="0.18">50</text>
<line x1="175.3" y1="70.83" x2="178.5" y2="70.83" stroke="#000" stroke-width="0.8"/>
<text x="174.70" y="72.73" font-size="5.2" font-weight="normal" text-anchor="end" fill="#111"  stroke="#111" stroke-width="0.18">100</text>
<line x1="175.3" y1="44.50" x2="178.5" y2="44.50" stroke="#000" stroke-width="0.8"/>
<text x="174.70" y="46.40" font-size="5.2" font-weight="normal" text-anchor="end" fill="#111"  stroke="#111" stroke-width="0.18">150</text>
<text transform="translate(161.20 84.50) rotate(-90)" font-size="6.0" text-anchor="middle" fill="#222">Rel. mRNA exp. (% norm -Dox)</text>
<text x="214.00" y="154.00" font-size="8.9" font-weight="bold" text-anchor="start" fill="#111"  stroke="#111" stroke-width="0.18">MELHO (R)</text>
<line x1="182.75" y1="195.50" x2="182.75" y2="192.26" stroke="#666666" stroke-width="0.8"/>
<line x1="181.45" y1="192.26" x2="184.05" y2="192.26" stroke="#666666" stroke-width="0.8"/>
<rect x="180.60" y="195.50" width="4.3" height="54.00" fill="#666666"/>
<circle cx="183.12" cy="198.74" r="1.25" fill="#000"/>
<circle cx="182.41" cy="195.50" r="1.25" fill="#000"/>
<circle cx="183.52" cy="192.26" r="1.25" fill="#000"/>
<line x1="189.30" y1="195.50" x2="189.30" y2="192.26" stroke="#a6a6aa" stroke-width="0.8"/>
<line x1="188.00" y1="192.26" x2="190.60" y2="192.26" stroke="#a6a6aa" stroke-width="0.8"/>
<rect x="187.15" y="195.50" width="4.3" height="54.00" fill="#a6a6aa"/>
<circle cx="188.69" cy="196.58" r="1.25" fill="#000"/>
<circle cx="189.17" cy="195.50" r="1.25" fill="#000"/>
<circle cx="189.71" cy="192.26" r="1.25" fill="#000"/>
<line x1="195.85" y1="195.50" x2="195.85" y2="192.26" stroke="#0b5e0b" stroke-width="0.8"/>
<line x1="194.55" y1="192.26" x2="197.15" y2="192.26" stroke="#0b5e0b" stroke-width="0.8"/>
<rect x="193.70" y="195.50" width="4.3" height="54.00" fill="#0b5e0b"/>
<circle cx="195.29" cy="196.58" r="1.25" fill="#000"/>
<circle cx="195.83" cy="193.88" r="1.25" fill="#000"/>
<circle cx="195.11" cy="192.26" r="1.25" fill="#000"/>
<rect x="200.30" y="231.14" width="4.3" height="18.36" fill="#1ec680"/>
<circle cx="202.72" cy="231.68" r="1.25" fill="#000"/>
<circle cx="202.87" cy="231.14" r="1.25" fill="#000"/>
<circle cx="202.57" cy="230.60" r="1.25" fill="#000"/>
<text x="192.60" y="260.10" font-size="6.6" font-weight="bold" text-anchor="middle" fill="#111"  stroke="#111" stroke-width="0.18">IRF4</text>
<line x1="214.15" y1="195.50" x2="214.15" y2="191.18" stroke="#666666" stroke-width="0.8"/>
<line x1="212.85" y1="191.18" x2="215.45" y2="191.18" stroke="#666666" stroke-width="0.8"/>
<rect x="212.00" y="195.50" width="4.3" height="54.00" fill="#666666"/>
<circle cx="214.75" cy="198.20" r="1.25" fill="#000"/>
<circle cx="213.85" cy="194.96" r="1.25" fill="#000"/>
<circle cx="214.46" cy="191.18" r="1.25" fill="#000"/>
<line x1="220.70" y1="198.74" x2="220.70" y2="186.86" stroke="#a6a6aa" stroke-width="0.8"/>
<line x1="219.40" y1="186.86" x2="222.00" y2="186.86" stroke="#a6a6aa" stroke-width="0.8"/>
<rect x="218.55" y="198.74" width="4.3" height="50.76" fill="#a6a6aa"/>
<circle cx="220.85" cy="207.38" r="1.25" fill="#000"/>
<circle cx="220.83" cy="195.50" r="1.25" fill="#000"/>
<circle cx="220.63" cy="193.34" r="1.25" fill="#000"/>
<line x1="227.25" y1="193.88" x2="227.25" y2="177.14" stroke="#0b5e0b" stroke-width="0.8"/>
<line x1="225.95" y1="177.14" x2="228.55" y2="177.14" stroke="#0b5e0b" stroke-width="0.8"/>
<rect x="225.10" y="193.88" width="4.3" height="55.62" fill="#0b5e0b"/>
<circle cx="227.79" cy="203.60" r="1.25" fill="#000"/>
<circle cx="227.96" cy="195.50" r="1.25" fill="#000"/>
<circle cx="227.21" cy="177.14" r="1.25" fill="#000"/>
<rect x="231.70" y="245.72" width="4.3" height="3.78" fill="#1ec680"/>
<circle cx="234.11" cy="246.26" r="1.25" fill="#000"/>
<circle cx="233.15" cy="245.72" r="1.25" fill="#000"/>
<circle cx="234.17" cy="245.18" r="1.25" fill="#000"/>
<text x="224.00" y="260.10" font-size="6.6" font-weight="bold" text-anchor="middle" fill="#111"  stroke="#111" stroke-width="0.18">BIRC7</text>
<rect x="243.00" y="195.50" width="4.3" height="54.00" fill="#666666"/>
<circle cx="245.39" cy="195.50" r="1.25" fill="#000"/>
<circle cx="245.94" cy="195.50" r="1.25" fill="#000"/>
<circle cx="245.67" cy="195.50" r="1.25" fill="#000"/>
<line x1="251.70" y1="183.62" x2="251.70" y2="180.92" stroke="#a6a6aa" stroke-width="0.8"/>
<line x1="250.40" y1="180.92" x2="253.00" y2="180.92" stroke="#a6a6aa" stroke-width="0.8"/>
<rect x="249.55" y="183.62" width="4.3" height="65.88" fill="#a6a6aa"/>
<circle cx="251.36" cy="185.78" r="1.25" fill="#000"/>
<circle cx="251.52" cy="182.54" r="1.25" fill="#000"/>
<circle cx="251.97" cy="180.92" r="1.25" fill="#000"/>
<line x1="258.25" y1="195.50" x2="258.25" y2="191.18" stroke="#0b5e0b" stroke-width="0.8"/>
<line x1="256.95" y1="191.18" x2="259.55" y2="191.18" stroke="#0b5e0b" stroke-width="0.8"/>
<rect x="256.10" y="195.50" width="4.3" height="54.00" fill="#0b5e0b"/>
<circle cx="257.49" cy="198.20" r="1.25" fill="#000"/>
<circle cx="258.19" cy="195.50" r="1.25" fill="#000"/>
<circle cx="257.72" cy="191.18" r="1.25" fill="#000"/>
<line x1="264.85" y1="234.92" x2="264.85" y2="232.22" stroke="#1ec680" stroke-width="0.8"/>
<line x1="263.55" y1="232.22" x2="266.15" y2="232.22" stroke="#1ec680" stroke-width="0.8"/>
<rect x="262.70" y="234.92" width="4.3" height="14.58" fill="#1ec680"/>
<circle cx="264.24" cy="236.54" r="1.25" fill="#000"/>
<circle cx="264.14" cy="234.92" r="1.25" fill="#000"/>
<circle cx="265.28" cy="232.22" r="1.25" fill="#000"/>
<text x="255.00" y="260.10" font-size="6.6" font-weight="bold" text-anchor="middle" fill="#111"  stroke="#111" stroke-width="0.18">CDK2</text>
<line x1="276.25" y1="195.50" x2="276.25" y2="187.40" stroke="#666666" stroke-width="0.8"/>
<line x1="274.95" y1="187.40" x2="277.55" y2="187.40" stroke="#666666" stroke-width="0.8"/>
<rect x="274.10" y="195.50" width="4.3" height="54.00" fill="#666666"/>
<circle cx="275.66" cy="201.98" r="1.25" fill="#000"/>
<circle cx="275.85" cy="195.50" r="1.25" fill="#000"/>
<circle cx="276.08" cy="188.48" r="1.25" fill="#000"/>
<line x1="282.80" y1="187.94" x2="282.80" y2="185.78" stroke="#a6a6aa" stroke-width="0.8"/>
<line x1="281.50" y1="185.78" x2="284.10" y2="185.78" stroke="#a6a6aa" stroke-width="0.8"/>
<rect x="280.65" y="187.94" width="4.3" height="61.56" fill="#a6a6aa"/>
<circle cx="283.39" cy="190.10" r="1.25" fill="#000"/>
<circle cx="282.13" cy="187.40" r="1.25" fill="#000"/>
<circle cx="282.72" cy="185.78" r="1.25" fill="#000"/>
<line x1="289.35" y1="193.34" x2="289.35" y2="192.26" stroke="#0b5e0b" stroke-width="0.8"/>
<line x1="288.05" y1="192.26" x2="290.65" y2="192.26" stroke="#0b5e0b" stroke-width="0.8"/>
<rect x="287.20" y="193.34" width="4.3" height="56.16" fill="#0b5e0b"/>
<circle cx="289.43" cy="197.66" r="1.25" fill="#000"/>
<circle cx="289.96" cy="193.34" r="1.25" fill="#000"/>
<circle cx="289.86" cy="192.26" r="1.25" fill="#000"/>
<rect x="293.80" y="233.84" width="4.3" height="15.66" fill="#1ec680"/>
<circle cx="296.53" cy="233.84" r="1.25" fill="#000"/>
<circle cx="295.60" cy="233.30" r="1.25" fill="#000"/>
<circle cx="295.81" cy="233.30" r="1.25" fill="#000"/>
<text x="286.10" y="260.10" font-size="6.6" font-weight="bold" text-anchor="middle" fill="#111"  stroke="#111" stroke-width="0.18">MITF-M</text>
<line x1="178.5" y1="168.00" x2="178.5" y2="249.50" stroke="#111" stroke-width="1"/>
<line x1="178.0" y1="249.50" x2="300.5" y2="249.50" stroke="#111" stroke-width="1"/>
<line x1="175.3" y1="249.50" x2="178.5" y2="249.50" stroke="#000" stroke-width="0.8"/>
<text x="174.70" y="251.40" font-size="5.2" font-weight="normal" text-anchor="end" fill="#111"  stroke="#111" stroke-width="0.18">0</text>
<line x1="175.3" y1="222.50" x2="178.5" y2="222.50" stroke="#000" stroke-width="0.8"/>
<text x="174.70" y="224.40" font-size="5.2" font-weight="normal" text-anchor="end" fill="#111"  stroke="#111" stroke-width="0.18">50</text>
<line x1="175.3" y1="195.50" x2="178.5" y2="195.50" stroke="#000" stroke-width="0.8"/>
<text x="174.70" y="197.40" font-size="5.2" font-weight="normal" text-anchor="end" fill="#111"  stroke="#111" stroke-width="0.18">100</text>
<line x1="175.3" y1="168.50" x2="178.5" y2="168.50" stroke="#000" stroke-width="0.8"/>
<text x="174.70" y="170.40" font-size="5.2" font-weight="normal" text-anchor="end" fill="#111"  stroke="#111" stroke-width="0.18">150</text>
<text transform="translate(161.20 208.20) rotate(-90)" font-size="6.2" text-anchor="middle" fill="#222">Rel. mRNA exp. (% norm -Dox)</text>
<rect x="304.7" y="38.60" width="8.3" height="5.2" fill="#666666"/>
<text x="318.10" y="43.80" font-size="7.7" font-weight="normal" text-anchor="start" fill="#2a2a2a"  stroke="#2a2a2a" stroke-width="0.18">shNT (-Dox)</text>
<rect x="304.7" y="49.15" width="8.3" height="5.2" fill="#a6a6aa"/>
<text x="318.10" y="54.35" font-size="7.7" font-weight="normal" text-anchor="start" fill="#2a2a2a"  stroke="#2a2a2a" stroke-width="0.18">shNT (+Dox)</text>
<rect x="304.7" y="59.70" width="8.3" height="5.2" fill="#0b5e0b"/>
<text x="318.10" y="64.90" font-size="7.7" font-weight="normal" text-anchor="start" fill="#2a2a2a"  stroke="#2a2a2a" stroke-width="0.18">shMITF (-Dox)</text>
<rect x="304.7" y="70.25" width="8.3" height="5.2" fill="#1ec680"/>
<text x="318.10" y="75.45" font-size="7.7" font-weight="normal" text-anchor="start" fill="#2a2a2a"  stroke="#2a2a2a" stroke-width="0.18">shMITF (+Dox)</text>
<text x="438.50" y="8.80" font-size="9.8" font-weight="bold" text-anchor="start" fill="#111"  stroke="#111" stroke-width="0.18">Sensitive models</text>
<line x1="436.30" y1="57.02" x2="436.30" y2="52.86" stroke="#444" stroke-width="0.8"/>
<line x1="434.70" y1="52.86" x2="437.90" y2="52.86" stroke="#444" stroke-width="0.8"/>
<rect x="431.90" y="57.02" width="8.8" height="69.23" fill="#666666"/>
<circle cx="436.30" cy="61.86" r="1.55" fill="#000"/>
<circle cx="436.30" cy="57.02" r="1.55" fill="#000"/>
<circle cx="436.30" cy="52.86" r="1.55" fill="#000"/>
<line x1="436.30" y1="126.25" x2="436.30" y2="130.65" stroke="#000" stroke-width="0.95"/>
<rect x="444.80" y="124.87" width="8.8" height="1.38" fill="#d9d9d9"/>
<circle cx="445.70" cy="126.25" r="1.55" fill="#000"/>
<circle cx="448.70" cy="124.52" r="1.55" fill="#000"/>
<circle cx="451.70" cy="124.52" r="1.55" fill="#000"/>
<line x1="449.20" y1="126.25" x2="449.20" y2="130.65" stroke="#000" stroke-width="0.95"/>
<text x="436.30" y="138.40" font-size="7.4" font-weight="normal" text-anchor="middle" fill="#111"  stroke="#111" stroke-width="0.18">-</text>
<text x="449.20" y="138.70" font-size="7.4" font-weight="normal" text-anchor="middle" fill="#111"  stroke="#111" stroke-width="0.18">+</text>
<text x="442.40" y="154.40" font-size="6.9" font-weight="bold" text-anchor="middle" fill="#111"  stroke="#111" stroke-width="0.18">MELHO</text>
<rect x="467.30" y="57.02" width="8.8" height="69.23" fill="#666666"/>
<circle cx="469.20" cy="57.02" r="1.55" fill="#000"/>
<circle cx="471.70" cy="56.32" r="1.55" fill="#000"/>
<circle cx="474.20" cy="57.02" r="1.55" fill="#000"/>
<line x1="471.70" y1="126.25" x2="471.70" y2="130.65" stroke="#000" stroke-width="0.95"/>
<line x1="485.30" y1="123.48" x2="485.30" y2="120.02" stroke="#444" stroke-width="0.8"/>
<line x1="483.70" y1="120.02" x2="486.90" y2="120.02" stroke="#444" stroke-width="0.8"/>
<rect x="480.90" y="123.48" width="8.8" height="2.77" fill="#d9d9d9"/>
<circle cx="482.30" cy="122.79" r="1.55" fill="#000"/>
<circle cx="485.30" cy="117.25" r="1.55" fill="#000"/>
<circle cx="488.30" cy="122.79" r="1.55" fill="#000"/>
<circle cx="485.30" cy="122.79" r="1.55" fill="#000"/>
<line x1="485.30" y1="126.25" x2="485.30" y2="130.65" stroke="#000" stroke-width="0.95"/>
<text x="471.70" y="138.40" font-size="7.4" font-weight="normal" text-anchor="middle" fill="#111"  stroke="#111" stroke-width="0.18">-</text>
<text x="485.30" y="138.70" font-size="7.4" font-weight="normal" text-anchor="middle" fill="#111"  stroke="#111" stroke-width="0.18">+</text>
<text x="477.00" y="154.40" font-size="6.9" font-weight="bold" text-anchor="middle" fill="#111"  stroke="#111" stroke-width="0.18">UACC-257</text>
<line x1="507.50" y1="57.02" x2="507.50" y2="46.63" stroke="#444" stroke-width="0.8"/>
<line x1="505.90" y1="46.63" x2="509.10" y2="46.63" stroke="#444" stroke-width="0.8"/>
<rect x="503.10" y="57.02" width="8.8" height="69.23" fill="#666666"/>
<circle cx="507.50" cy="65.32" r="1.55" fill="#000"/>
<circle cx="507.50" cy="58.40" r="1.55" fill="#000"/>
<circle cx="507.50" cy="46.63" r="1.55" fill="#000"/>
<line x1="507.50" y1="126.25" x2="507.50" y2="130.65" stroke="#000" stroke-width="0.95"/>
<line x1="520.60" y1="108.94" x2="520.60" y2="105.48" stroke="#444" stroke-width="0.8"/>
<line x1="519.00" y1="105.48" x2="522.20" y2="105.48" stroke="#444" stroke-width="0.8"/>
<rect x="516.20" y="108.94" width="8.8" height="17.31" fill="#d9d9d9"/>
<circle cx="517.60" cy="108.94" r="1.55" fill="#000"/>
<circle cx="520.60" cy="102.71" r="1.55" fill="#000"/>
<circle cx="523.60" cy="107.56" r="1.55" fill="#000"/>
<line x1="520.60" y1="126.25" x2="520.60" y2="130.65" stroke="#000" stroke-width="0.95"/>
<text x="507.50" y="138.40" font-size="7.4" font-weight="normal" text-anchor="middle" fill="#111"  stroke="#111" stroke-width="0.18">-</text>
<text x="520.60" y="138.70" font-size="7.4" font-weight="normal" text-anchor="middle" fill="#111"  stroke="#111" stroke-width="0.18">+</text>
<text x="516.20" y="154.40" font-size="6.9" font-weight="bold" text-anchor="middle" fill="#111"  stroke="#111" stroke-width="0.18">SKMEL30</text>
<line x1="427.4" y1="21.90" x2="427.4" y2="126.25" stroke="#000" stroke-width="1.2"/>
<line x1="426.79999999999995" y1="126.25" x2="530.2" y2="126.25" stroke="#000" stroke-width="1.1"/>
<line x1="423.0" y1="126.25" x2="427.4" y2="126.25" stroke="#000" stroke-width="1"/>
<text x="422.40" y="129.05" font-size="7.6" font-weight="bold" text-anchor="end" fill="#000" stroke="#000" stroke-width="0.05">0</text>
<line x1="423.0" y1="91.63" x2="427.4" y2="91.63" stroke="#000" stroke-width="1"/>
<text x="422.40" y="94.43" font-size="7.6" font-weight="bold" text-anchor="end" fill="#000" stroke="#000" stroke-width="0.05">50</text>
<line x1="423.0" y1="57.02" x2="427.4" y2="57.02" stroke="#000" stroke-width="1"/>
<text x="422.40" y="59.82" font-size="7.6" font-weight="bold" text-anchor="end" fill="#000" stroke="#000" stroke-width="0.05">100</text>
<line x1="423.0" y1="22.40" x2="427.4" y2="22.40" stroke="#000" stroke-width="1"/>
<text x="422.40" y="25.20" font-size="7.6" font-weight="bold" text-anchor="end" fill="#000" stroke="#000" stroke-width="0.05">150</text>
<text x="411.90" y="138.20" font-size="8.0" font-weight="normal" text-anchor="start" fill="#111"  stroke="#111" stroke-width="0.18">Dox</text>
<text transform="translate(397.80 73.3) rotate(-90)" font-size="8.8" text-anchor="middle" fill="#222" stroke="#222" stroke-width="0.15">Rel. cell growth (% norm. -Dox)</text>
<text x="592.00" y="8.80" font-size="9.8" font-weight="bold" text-anchor="start" fill="#111"  stroke="#111" stroke-width="0.18">Resistant models</text>
<line x1="590.40" y1="56.40" x2="590.40" y2="52.96" stroke="#444" stroke-width="0.8"/>
<line x1="588.80" y1="52.96" x2="592.00" y2="52.96" stroke="#444" stroke-width="0.8"/>
<rect x="586.00" y="56.40" width="8.8" height="68.80" fill="#666666"/>
<circle cx="588.40" cy="52.27" r="1.55" fill="#000"/>
<circle cx="590.40" cy="59.15" r="1.55" fill="#000"/>
<circle cx="592.40" cy="55.71" r="1.55" fill="#000"/>
<line x1="590.40" y1="125.20" x2="590.40" y2="129.60" stroke="#000" stroke-width="0.95"/>
<rect x="598.80" y="124.51" width="8.8" height="0.69" fill="#d9d9d9"/>
<circle cx="600.20" cy="124.51" r="1.55" fill="#000"/>
<circle cx="606.20" cy="124.51" r="1.55" fill="#000"/>
<line x1="603.20" y1="125.20" x2="603.20" y2="129.60" stroke="#000" stroke-width="0.95"/>
<text x="590.40" y="137.70" font-size="7.4" font-weight="normal" text-anchor="middle" fill="#111"  stroke="#111" stroke-width="0.18">-</text>
<text x="603.20" y="138.00" font-size="7.4" font-weight="normal" text-anchor="middle" fill="#111"  stroke="#111" stroke-width="0.18">+</text>
<text x="596.50" y="154.40" font-size="6.9" font-weight="bold" text-anchor="middle" fill="#111"  stroke="#111" stroke-width="0.18">MELHO</text>
<text x="596.50" y="162.40" font-size="6.9" font-weight="bold" text-anchor="middle" fill="#111"  stroke="#111" stroke-width="0.18">(DT)</text>
<line x1="625.40" y1="56.40" x2="625.40" y2="44.02" stroke="#444" stroke-width="0.8"/>
<line x1="623.80" y1="44.02" x2="627.00" y2="44.02" stroke="#444" stroke-width="0.8"/>
<rect x="621.00" y="56.40" width="8.8" height="68.80" fill="#666666"/>
<circle cx="625.40" cy="41.95" r="1.55" fill="#000"/>
<circle cx="622.90" cy="47.11" r="1.55" fill="#000"/>
<circle cx="627.90" cy="45.60" r="1.55" fill="#000"/>
<circle cx="623.90" cy="50.21" r="1.55" fill="#000"/>
<circle cx="627.40" cy="51.24" r="1.55" fill="#000"/>
<circle cx="625.40" cy="55.02" r="1.55" fill="#000"/>
<circle cx="625.40" cy="64.38" r="1.55" fill="#000"/>
<circle cx="625.40" cy="70.57" r="1.55" fill="#000"/>
<circle cx="625.40" cy="77.52" r="1.55" fill="#000"/>
<line x1="625.40" y1="125.20" x2="625.40" y2="129.60" stroke="#000" stroke-width="0.95"/>
<line x1="638.90" y1="121.76" x2="638.90" y2="119.70" stroke="#444" stroke-width="0.8"/>
<line x1="637.30" y1="119.70" x2="640.50" y2="119.70" stroke="#444" stroke-width="0.8"/>
<rect x="634.50" y="121.76" width="8.8" height="3.44" fill="#d9d9d9"/>
<circle cx="635.90" cy="122.45" r="1.55" fill="#000"/>
<circle cx="637.90" cy="120.38" r="1.55" fill="#000"/>
<circle cx="639.90" cy="121.07" r="1.55" fill="#000"/>
<circle cx="641.90" cy="122.45" r="1.55" fill="#000"/>
<circle cx="638.90" cy="119.01" r="1.55" fill="#000"/>
<circle cx="636.90" cy="121.76" r="1.55" fill="#000"/>
<line x1="638.90" y1="125.20" x2="638.90" y2="129.60" stroke="#000" stroke-width="0.95"/>
<text x="625.40" y="137.70" font-size="7.4" font-weight="normal" text-anchor="middle" fill="#111"  stroke="#111" stroke-width="0.18">-</text>
<text x="638.90" y="138.00" font-size="7.4" font-weight="normal" text-anchor="middle" fill="#111"  stroke="#111" stroke-width="0.18">+</text>
<text x="631.40" y="154.40" font-size="6.9" font-weight="bold" text-anchor="middle" fill="#111"  stroke="#111" stroke-width="0.18">UACC-257</text>
<text x="631.40" y="162.40" font-size="6.9" font-weight="bold" text-anchor="middle" fill="#111"  stroke="#111" stroke-width="0.18">(DT)</text>
<rect x="657.10" y="56.40" width="8.8" height="68.80" fill="#666666"/>
<circle cx="661.50" cy="51.58" r="1.55" fill="#000"/>
<circle cx="661.50" cy="58.46" r="1.55" fill="#000"/>
<circle cx="661.50" cy="56.40" r="1.55" fill="#000"/>
<line x1="661.50" y1="125.20" x2="661.50" y2="129.60" stroke="#000" stroke-width="0.95"/>
<rect x="670.20" y="113.50" width="8.8" height="11.70" fill="#d9d9d9"/>
<circle cx="672.10" cy="111.10" r="1.55" fill="#000"/>
<circle cx="674.60" cy="116.26" r="1.55" fill="#000"/>
<circle cx="677.10" cy="112.47" r="1.55" fill="#000"/>
<line x1="674.60" y1="125.20" x2="674.60" y2="129.60" stroke="#000" stroke-width="0.95"/>
<text x="661.50" y="137.70" font-size="7.4" font-weight="normal" text-anchor="middle" fill="#111"  stroke="#111" stroke-width="0.18">-</text>
<text x="674.60" y="138.00" font-size="7.4" font-weight="normal" text-anchor="middle" fill="#111"  stroke="#111" stroke-width="0.18">+</text>
<text x="668.30" y="154.40" font-size="6.9" font-weight="bold" text-anchor="middle" fill="#111"  stroke="#111" stroke-width="0.18">SKMEL30</text>
<text x="668.30" y="162.40" font-size="6.9" font-weight="bold" text-anchor="middle" fill="#111"  stroke="#111" stroke-width="0.18">(T)</text>
<line x1="581.3" y1="21.50" x2="581.3" y2="125.20" stroke="#000" stroke-width="1.2"/>
<line x1="580.6999999999999" y1="125.20" x2="684.5" y2="125.20" stroke="#000" stroke-width="1.1"/>
<line x1="576.9" y1="125.20" x2="581.3" y2="125.20" stroke="#000" stroke-width="1"/>
<text x="576.30" y="128.00" font-size="7.6" font-weight="bold" text-anchor="end" fill="#000" stroke="#000" stroke-width="0.05">0</text>
<line x1="576.9" y1="90.80" x2="581.3" y2="90.80" stroke="#000" stroke-width="1"/>
<text x="576.30" y="93.60" font-size="7.6" font-weight="bold" text-anchor="end" fill="#000" stroke="#000" stroke-width="0.05">50</text>
<line x1="576.9" y1="56.40" x2="581.3" y2="56.40" stroke="#000" stroke-width="1"/>
<text x="576.30" y="59.20" font-size="7.6" font-weight="bold" text-anchor="end" fill="#000" stroke="#000" stroke-width="0.05">100</text>
<line x1="576.9" y1="22.00" x2="581.3" y2="22.00" stroke="#000" stroke-width="1"/>
<text x="576.30" y="24.80" font-size="7.6" font-weight="bold" text-anchor="end" fill="#000" stroke="#000" stroke-width="0.05">150</text>
<text x="565.80" y="137.50" font-size="8.0" font-weight="normal" text-anchor="start" fill="#111"  stroke="#111" stroke-width="0.18">Dox</text>
<text transform="translate(551.80 73.3) rotate(-90)" font-size="8.8" text-anchor="middle" fill="#222" stroke="#222" stroke-width="0.15">Rel. cell growth (% norm. -Dox)</text>
<text x="391.90" y="179.70" font-size="7.6" font-weight="bold" text-anchor="start" fill="#111"  stroke="#111" stroke-width="0.18">DOX vs</text>
<text x="391.90" y="188.50" font-size="7.6" font-weight="bold" text-anchor="start" fill="#111"  stroke="#111" stroke-width="0.18">NoDOX</text>
<text x="444.40" y="179.70" font-size="7.6" font-weight="bold" text-anchor="middle" fill="#111"  stroke="#111" stroke-width="0.18">R v. S</text>
<text x="444.40" y="188.50" font-size="7.6" font-weight="bold" text-anchor="middle" fill="#111"  stroke="#111" stroke-width="0.18">(no DOX)</text>
<rect x="393.9" y="193.20" width="11.2" height="11.55" fill="#2a6eb5"/>
<rect x="405.1" y="193.20" width="11.3" height="11.55" fill="#96c6e0"/>
<rect x="439.0" y="193.20" width="11.6" height="11.55" fill="#6aa7d3"/>
<text x="452.40" y="202.30" font-size="7.9" font-weight="normal" text-anchor="start" fill="#1a1a1a"  stroke="#1a1a1a" stroke-width="0.18">MITF_signature</text>
<rect x="393.9" y="204.70" width="11.2" height="11.55" fill="#c8373c"/>
<rect x="405.1" y="204.70" width="11.3" height="11.55" fill="#eb8c6e"/>
<rect x="439.0" y="204.70" width="11.6" height="11.55" fill="#d24c3f"/>
<text x="452.40" y="213.80" font-size="7.9" font-weight="normal" text-anchor="start" fill="#1a1a1a"  stroke="#1a1a1a" stroke-width="0.18">AXL_signature</text>
<rect x="393.9" y="216.20" width="11.2" height="11.55" fill="#a5cde4"/>
<rect x="405.1" y="216.20" width="11.3" height="11.55" fill="#78afd7"/>
<rect x="439.0" y="216.20" width="11.6" height="11.55" fill="#9fcbe4"/>
<text x="452.40" y="225.30" font-size="7.9" font-weight="normal" text-anchor="start" fill="#1a1a1a"  stroke="#1a1a1a" stroke-width="0.18">HALLMARK_DNA_REPAIR</text>
<rect x="393.9" y="227.70" width="11.2" height="11.55" fill="#2d73b9"/>
<rect x="405.1" y="227.70" width="11.3" height="11.55" fill="#2d73b9"/>
<rect x="439.0" y="227.70" width="11.6" height="11.55" fill="#9fcbe4"/>
<text x="452.40" y="236.80" font-size="7.9" font-weight="normal" text-anchor="start" fill="#1a1a1a"  stroke="#1a1a1a" stroke-width="0.18">HALLMARK_MYC_TARGETS</text>
<rect x="393.9" y="239.20" width="11.2" height="11.55" fill="#b91e2d"/>
<rect x="405.1" y="239.20" width="11.3" height="11.55" fill="#dc6450"/>
<rect x="439.0" y="239.20" width="11.6" height="11.55" fill="#e4735a"/>
<text x="452.40" y="248.30" font-size="7.9" font-weight="normal" text-anchor="start" fill="#1a1a1a"  stroke="#1a1a1a" stroke-width="0.18">HALLMARK_EMT</text>
<rect x="393.9" y="250.70" width="11.2" height="11.55" fill="#e67d5f"/>
<rect x="405.1" y="250.70" width="11.3" height="11.55" fill="#f09b7d"/>
<rect x="439.0" y="250.70" width="11.6" height="11.55" fill="#eb8769"/>
<text x="452.40" y="259.80" font-size="7.9" font-weight="normal" text-anchor="start" fill="#1a1a1a"  stroke="#1a1a1a" stroke-width="0.18">HALLMARK_P53_PATHWAY</text>
<rect x="393.9" y="262.20" width="11.2" height="11.55" fill="#ee9173"/>
<rect x="405.1" y="262.20" width="11.3" height="11.55" fill="#f5af91"/>
<rect x="439.0" y="262.20" width="11.6" height="11.55" fill="#b9daeb"/>
<text x="452.40" y="271.30" font-size="7.9" font-weight="normal" text-anchor="start" fill="#1a1a1a"  stroke="#1a1a1a" stroke-width="0.18">KEGG_MAPK_SIGNALING_PATHWAY</text>
<rect x="393.9" y="273.70" width="11.2" height="11.55" fill="#d75a4b"/>
<rect x="405.1" y="273.70" width="11.3" height="11.55" fill="#f09678"/>
<rect x="439.0" y="273.70" width="11.6" height="11.55" fill="#96c8e4"/>
<text x="452.40" y="282.80" font-size="7.9" font-weight="normal" text-anchor="start" fill="#1a1a1a"  stroke="#1a1a1a" stroke-width="0.18">HALLMARK_KRAS_SIGNALING_UP</text>
<rect x="393.9" y="193.2" width="22.5" height="92.00" fill="none" stroke="#444" stroke-width="0.7"/>
<rect x="439.0" y="193.2" width="11.6" height="92.00" fill="none" stroke="#444" stroke-width="0.7"/>
<text transform="translate(401.7 291.0) rotate(-45)" font-size="7.9" text-anchor="end" fill="#222">MELHO (R)</text>
<text transform="translate(412.8 292.0) rotate(-45)" font-size="7.9" text-anchor="end" fill="#222">MELHO (S)</text>
<text x="570.30" y="219.70" font-size="6.5" font-weight="bold" text-anchor="start" fill="#111"  stroke="#111" stroke-width="0.18">NES</text>
<linearGradient id="nes" x1="0" y1="0" x2="0" y2="1"><stop offset="0" stop-color="#b2182b"/><stop offset="0.27" stop-color="#ef9e7e"/><stop offset="0.5" stop-color="#f7f7f7"/><stop offset="0.73" stop-color="#8fc0dd"/><stop offset="1" stop-color="#2166ac"/></linearGradient>
<rect x="570.3" y="223.1" width="7.8" height="40.4" fill="url(#nes)"/>
<line x1="570.3" y1="225.40" x2="571.8" y2="225.40" stroke="#fff" stroke-width="0.6"/>
<line x1="576.6" y1="225.40" x2="578.1" y2="225.40" stroke="#fff" stroke-width="0.6"/>
<text x="579.30" y="227.70" font-size="6.5" font-weight="normal" text-anchor="start" fill="#222"  stroke="#222" stroke-width="0.18">2</text>
<line x1="570.3" y1="234.40" x2="571.8" y2="234.40" stroke="#fff" stroke-width="0.6"/>
<line x1="576.6" y1="234.40" x2="578.1" y2="234.40" stroke="#fff" stroke-width="0.6"/>
<text x="579.30" y="236.70" font-size="6.5" font-weight="normal" text-anchor="start" fill="#222"  stroke="#222" stroke-width="0.18">1</text>
<line x1="570.3" y1="243.80" x2="571.8" y2="243.80" stroke="#fff" stroke-width="0.6"/>
<line x1="576.6" y1="243.80" x2="578.1" y2="243.80" stroke="#fff" stroke-width="0.6"/>
<text x="579.30" y="246.10" font-size="6.5" font-weight="normal" text-anchor="start" fill="#222"  stroke="#222" stroke-width="0.18">0</text>
<line x1="570.3" y1="253.20" x2="571.8" y2="253.20" stroke="#fff" stroke-width="0.6"/>
<line x1="576.6" y1="253.20" x2="578.1" y2="253.20" stroke="#fff" stroke-width="0.6"/>
<text x="579.30" y="255.50" font-size="6.5" font-weight="normal" text-anchor="start" fill="#222"  stroke="#222" stroke-width="0.18">-1</text>
<line x1="570.3" y1="261.60" x2="571.8" y2="261.60" stroke="#fff" stroke-width="0.6"/>
<line x1="576.6" y1="261.60" x2="578.1" y2="261.60" stroke="#fff" stroke-width="0.6"/>
<text x="579.30" y="263.90" font-size="6.5" font-weight="normal" text-anchor="start" fill="#222"  stroke="#222" stroke-width="0.18">-2</text>
<line x1="21.3" y1="86.5" x2="25.7" y2="86.5" stroke="#888" stroke-width="0.6"/>
<line x1="133.6" y1="86.4" x2="136.1" y2="86.4" stroke="#666" stroke-width="0.7"/>
<line x1="21.4" y1="216.3" x2="24.0" y2="216.3" stroke="#888" stroke-width="0.6"/>
<rect x="229.4" y="159.0" width="1.2" height="0.7" fill="#999"/>
<rect x="283.7" y="159.0" width="1.2" height="0.7" fill="#999"/>
</svg>
</body></html>
